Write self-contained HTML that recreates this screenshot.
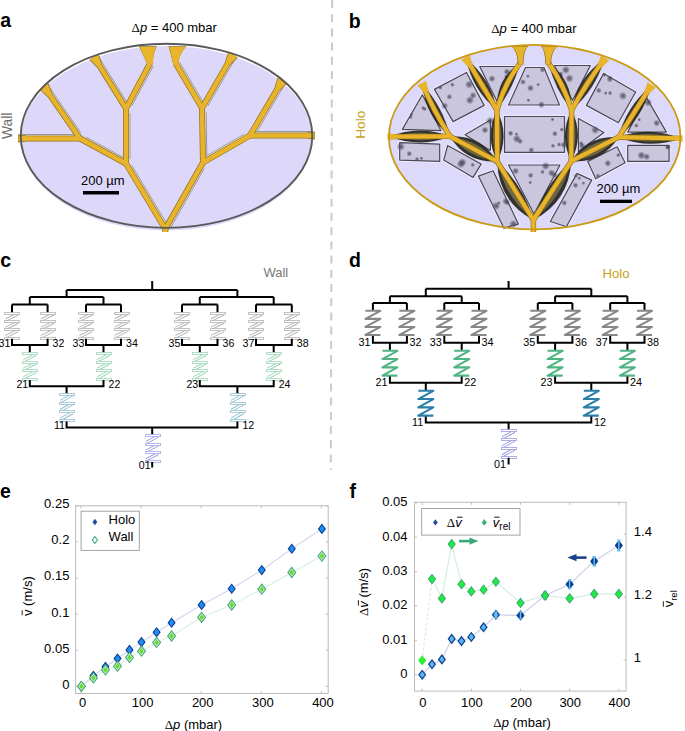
<!DOCTYPE html>
<html><head><meta charset="utf-8"><title>figure</title>
<style>
html,body{margin:0;padding:0;background:#fff;width:685px;height:731px;overflow:hidden;}
svg{display:block;}
text{font-family:"Liberation Sans", sans-serif;}
</style></head><body>
<svg width="685" height="731" viewBox="0 0 685 731">
<text x="0.2" y="27.3" font-size="19.5" text-anchor="start" fill="#000" font-weight="bold">a</text>
<text x="348.8" y="28" font-size="19.5" text-anchor="start" fill="#000" font-weight="bold">b</text>
<text x="0.2" y="267" font-size="19.5" text-anchor="start" fill="#000" font-weight="bold">c</text>
<text x="349.0" y="266.8" font-size="19.5" text-anchor="start" fill="#000" font-weight="bold">d</text>
<text x="0" y="498" font-size="19.5" text-anchor="start" fill="#000" font-weight="bold">e</text>
<text x="349.5" y="498" font-size="19.5" text-anchor="start" fill="#000" font-weight="bold">f</text>
<line x1="332.1" y1="0" x2="330.8" y2="470" stroke="#cccccc" stroke-width="2.1" stroke-dasharray="8 6.2"/>
<ellipse cx="166.5" cy="138.3" rx="145.6" ry="92.2" fill="#ddd8fa"/>
<path d="M165.4,223.7 L130.7,165.9" stroke="#f4f2fa" stroke-width="2.2"/>
<path d="M166.4,223.1 L131.7,165.3" stroke="#999699" stroke-width="1.0"/>
<path d="M170.0,226.5 L203.2,167.8" stroke="#f4f2fa" stroke-width="2.2"/>
<path d="M171.0,227.1 L204.3,168.4" stroke="#999699" stroke-width="1.0"/>
<path d="M128.8,159.0 L128.8,112.9" stroke="#f4f2fa" stroke-width="2.2"/>
<path d="M130.0,159.0 L130.0,112.9" stroke="#999699" stroke-width="1.0"/>
<path d="M123.4,158.9 L85.3,138.2" stroke="#f4f2fa" stroke-width="2.2"/>
<path d="M124.0,157.8 L85.9,137.1" stroke="#999699" stroke-width="1.0"/>
<path d="M205.7,157.9 L204.9,112.4" stroke="#f4f2fa" stroke-width="2.2"/>
<path d="M206.9,157.9 L206.1,112.4" stroke="#999699" stroke-width="1.0"/>
<path d="M205.5,157.8 L244.7,135.3" stroke="#f4f2fa" stroke-width="2.2"/>
<path d="M204.9,156.8 L244.1,134.3" stroke="#999699" stroke-width="1.0"/>
<path d="M130.6,105.8 L152.0,65.7" stroke="#f4f2fa" stroke-width="2.2"/>
<path d="M131.6,106.3 L153.1,66.3" stroke="#999699" stroke-width="1.0"/>
<path d="M126.0,103.1 L97.6,57.5" stroke="#f4f2fa" stroke-width="2.2"/>
<path d="M127.0,102.5 L98.6,56.8" stroke="#999699" stroke-width="1.0"/>
<path d="M202.1,102.7 L178.6,62.9" stroke="#f4f2fa" stroke-width="2.2"/>
<path d="M203.2,102.1 L179.7,62.3" stroke="#999699" stroke-width="1.0"/>
<path d="M206.7,105.5 L234.1,58.3" stroke="#f4f2fa" stroke-width="2.2"/>
<path d="M207.7,106.1 L235.1,58.9" stroke="#999699" stroke-width="1.0"/>
<path d="M79.7,133.2 L47.7,86.9" stroke="#f4f2fa" stroke-width="2.2"/>
<path d="M80.7,132.5 L48.6,86.2" stroke="#999699" stroke-width="1.0"/>
<path d="M75.5,135.7 L21.0,135.7" stroke="#f4f2fa" stroke-width="2.2"/>
<path d="M75.5,134.5 L21.0,134.5" stroke="#999699" stroke-width="1.0"/>
<path d="M254.7,133.0 L283.5,84.1" stroke="#f4f2fa" stroke-width="2.2"/>
<path d="M255.7,133.6 L284.5,84.7" stroke="#999699" stroke-width="1.0"/>
<path d="M254.5,132.7 L312.0,132.7" stroke="#f4f2fa" stroke-width="2.2"/>
<path d="M254.5,131.5 L312.0,131.5" stroke="#999699" stroke-width="1.0"/>
<path d="M165.3,232.0 L165.3,229.0" fill="none" stroke="#94741f" stroke-width="6.0" stroke-linejoin="round" stroke-linecap="butt"/>
<path d="M165.3,229.0 L126.0,163.5" fill="none" stroke="#94741f" stroke-width="6.0" stroke-linejoin="round" stroke-linecap="butt"/>
<path d="M165.3,229.0 L203.0,162.5" fill="none" stroke="#94741f" stroke-width="6.0" stroke-linejoin="round" stroke-linecap="butt"/>
<path d="M126.0,163.5 L126.0,108.4" fill="none" stroke="#94741f" stroke-width="6.0" stroke-linejoin="round" stroke-linecap="butt"/>
<path d="M126.0,163.5 L80.0,138.5" fill="none" stroke="#94741f" stroke-width="6.0" stroke-linejoin="round" stroke-linecap="butt"/>
<path d="M203.0,162.5 L202.0,108.0" fill="none" stroke="#94741f" stroke-width="6.0" stroke-linejoin="round" stroke-linecap="butt"/>
<path d="M203.0,162.5 L250.0,135.5" fill="none" stroke="#94741f" stroke-width="6.0" stroke-linejoin="round" stroke-linecap="butt"/>
<path d="M126.0,108.4 L150.0,63.5" fill="none" stroke="#94741f" stroke-width="6.0" stroke-linejoin="round" stroke-linecap="butt"/>
<path d="M126.0,108.4 L94.7,58.1" fill="none" stroke="#94741f" stroke-width="6.0" stroke-linejoin="round" stroke-linecap="butt"/>
<path d="M202.0,108.0 L175.7,63.5" fill="none" stroke="#94741f" stroke-width="6.0" stroke-linejoin="round" stroke-linecap="butt"/>
<path d="M202.0,108.0 L232.2,56.0" fill="none" stroke="#94741f" stroke-width="6.0" stroke-linejoin="round" stroke-linecap="butt"/>
<path d="M80.0,138.5 L44.8,87.7" fill="none" stroke="#94741f" stroke-width="6.0" stroke-linejoin="round" stroke-linecap="butt"/>
<path d="M80.0,138.5 L20.0,138.5" fill="none" stroke="#94741f" stroke-width="6.0" stroke-linejoin="round" stroke-linecap="butt"/>
<path d="M250.0,135.5 L281.6,81.8" fill="none" stroke="#94741f" stroke-width="6.0" stroke-linejoin="round" stroke-linecap="butt"/>
<path d="M250.0,135.5 L313.0,135.5" fill="none" stroke="#94741f" stroke-width="6.0" stroke-linejoin="round" stroke-linecap="butt"/>
<path d="M89.3,59.7 L98.6,53.9 L102.0,63.6 L96.4,67.0 Z" fill="#94741f"/>
<path d="M228.2,51.9 L237.7,57.5 L230.7,65.0 L225.0,61.7 Z" fill="#94741f"/>
<path d="M39.4,89.6 L48.5,83.3 L52.3,92.8 L46.9,96.6 Z" fill="#94741f"/>
<path d="M277.6,77.7 L287.1,83.3 L280.1,90.8 L274.4,87.5 Z" fill="#94741f"/>
<path d="M18.0,142.4 L18.0,134.6 L25.5,135.2 L25.5,141.8 Z" fill="#94741f"/>
<path d="M315.0,131.6 L315.0,139.4 L307.5,138.8 L307.5,132.2 Z" fill="#94741f"/>
<path d="M138.9,46.3 L156.8,46.3 Q153,54.3 152.5,64.5 L147.5,64.5 L138.9,46.3 Z" fill="#94741f"/>
<path d="M168.6,46.3 L186.3,46.3 Q178.7,54.3 178.2,64.5 L173.2,64.5 L168.6,46.3 Z" fill="#94741f"/>
<path d="M165.3,232.0 L165.3,229.0" fill="none" stroke="#e8b42c" stroke-width="4.5" stroke-linejoin="round" stroke-linecap="butt"/>
<path d="M165.3,229.0 L126.0,163.5" fill="none" stroke="#e8b42c" stroke-width="4.5" stroke-linejoin="round" stroke-linecap="butt"/>
<path d="M165.3,229.0 L203.0,162.5" fill="none" stroke="#e8b42c" stroke-width="4.5" stroke-linejoin="round" stroke-linecap="butt"/>
<path d="M126.0,163.5 L126.0,108.4" fill="none" stroke="#e8b42c" stroke-width="4.5" stroke-linejoin="round" stroke-linecap="butt"/>
<path d="M126.0,163.5 L80.0,138.5" fill="none" stroke="#e8b42c" stroke-width="4.5" stroke-linejoin="round" stroke-linecap="butt"/>
<path d="M203.0,162.5 L202.0,108.0" fill="none" stroke="#e8b42c" stroke-width="4.5" stroke-linejoin="round" stroke-linecap="butt"/>
<path d="M203.0,162.5 L250.0,135.5" fill="none" stroke="#e8b42c" stroke-width="4.5" stroke-linejoin="round" stroke-linecap="butt"/>
<path d="M126.0,108.4 L150.0,63.5" fill="none" stroke="#e8b42c" stroke-width="4.5" stroke-linejoin="round" stroke-linecap="butt"/>
<path d="M126.0,108.4 L94.7,58.1" fill="none" stroke="#e8b42c" stroke-width="4.5" stroke-linejoin="round" stroke-linecap="butt"/>
<path d="M202.0,108.0 L175.7,63.5" fill="none" stroke="#e8b42c" stroke-width="4.5" stroke-linejoin="round" stroke-linecap="butt"/>
<path d="M202.0,108.0 L232.2,56.0" fill="none" stroke="#e8b42c" stroke-width="4.5" stroke-linejoin="round" stroke-linecap="butt"/>
<path d="M80.0,138.5 L44.8,87.7" fill="none" stroke="#e8b42c" stroke-width="4.5" stroke-linejoin="round" stroke-linecap="butt"/>
<path d="M80.0,138.5 L20.0,138.5" fill="none" stroke="#e8b42c" stroke-width="4.5" stroke-linejoin="round" stroke-linecap="butt"/>
<path d="M250.0,135.5 L281.6,81.8" fill="none" stroke="#e8b42c" stroke-width="4.5" stroke-linejoin="round" stroke-linecap="butt"/>
<path d="M250.0,135.5 L313.0,135.5" fill="none" stroke="#e8b42c" stroke-width="4.5" stroke-linejoin="round" stroke-linecap="butt"/>
<path d="M89.9,59.3 L98.0,54.3 L101.3,64.0 L97.1,66.6 Z" fill="#e8b42c"/>
<path d="M228.8,52.3 L237.0,57.1 L230.1,64.6 L225.7,62.1 Z" fill="#e8b42c"/>
<path d="M40.0,89.2 L47.8,83.8 L51.7,93.3 L47.6,96.1 Z" fill="#e8b42c"/>
<path d="M278.2,78.1 L286.4,82.9 L279.4,90.4 L275.1,87.9 Z" fill="#e8b42c"/>
<path d="M18.5,141.6 L18.5,135.4 L26.0,136.0 L26.0,141.0 Z" fill="#e8b42c"/>
<path d="M314.5,132.4 L314.5,138.6 L307.0,138.0 L307.0,133.0 Z" fill="#e8b42c"/>
<path d="M139.8,47 L156,47 Q153,55 152.5,64.5 L147.5,64.5 L139.8,47 Z" fill="#e8b42c"/>
<path d="M169.4,47 L185.4,47 Q178.7,55 178.2,64.5 L173.2,64.5 L169.4,47 Z" fill="#e8b42c"/>
<ellipse cx="166.5" cy="135.8" rx="145.8" ry="92.1" fill="none" stroke="#5a5a5a" stroke-width="1.9"/>
<text x="81" y="185.3" font-size="13" text-anchor="start" fill="#000" font-weight="normal">200 µm</text>
<rect x="83" y="191" width="36" height="3.5" fill="#000"/>
<text x="131.5" y="32.4" font-size="13" text-anchor="start" fill="#000" font-weight="normal"><tspan style="font-family:Liberation Serif">Δ</tspan><tspan font-style="italic">p</tspan> = 400 mbar</text>
<text x="12.2" y="139" font-size="13.8" text-anchor="start" fill="#6a6a6a" font-weight="normal" transform="rotate(-90 12.2 139)">Wall</text>
<ellipse cx="534.7" cy="137.1" rx="145.8" ry="92.3" fill="#ddd9fa"/>
<defs><radialGradient id="dot"><stop offset="0" stop-color="#4a4858" stop-opacity="0.85"/><stop offset="0.45" stop-color="#4a4858" stop-opacity="0.6"/><stop offset="1" stop-color="#5a5870" stop-opacity="0"/></radialGradient></defs>
<polygon points="402.3,129.4 422.4,94.7 441,130.7" fill="none" stroke="#eeecfc" stroke-width="3.2" stroke-linejoin="round"/>
<polygon points="434.4,89.4 466.5,72.5 484.2,105.4 453.1,121.6" fill="none" stroke="#eeecfc" stroke-width="3.2" stroke-linejoin="round"/>
<polygon points="479.7,66.5 515.8,66.5 497.1,101.4" fill="none" stroke="#eeecfc" stroke-width="3.2" stroke-linejoin="round"/>
<polygon points="525.5,67.5 544,67.5 559.5,105 508.5,105" fill="none" stroke="#eeecfc" stroke-width="3.2" stroke-linejoin="round"/>
<polygon points="554.4,65.5 590.4,65.5 572.5,100.5" fill="none" stroke="#eeecfc" stroke-width="3.2" stroke-linejoin="round"/>
<polygon points="603.7,73.4 635.7,92 618.4,122.7 586.4,105.4" fill="none" stroke="#eeecfc" stroke-width="3.2" stroke-linejoin="round"/>
<polygon points="627.7,132.1 646.4,97.4 666.4,132.1" fill="none" stroke="#eeecfc" stroke-width="3.2" stroke-linejoin="round"/>
<polygon points="504.5,116.5 564.5,116.5 564.5,152.3 504.5,152.3" fill="none" stroke="#eeecfc" stroke-width="3.2" stroke-linejoin="round"/>
<polygon points="465,134.7 490.4,120 490.4,150.4" fill="none" stroke="#eeecfc" stroke-width="3.2" stroke-linejoin="round"/>
<polygon points="578.4,118.4 604,132.6 578.4,151.6" fill="none" stroke="#eeecfc" stroke-width="3.2" stroke-linejoin="round"/>
<polygon points="399.7,142.7 439.7,144.1 439.7,161.4 399.7,160.1" fill="none" stroke="#eeecfc" stroke-width="3.2" stroke-linejoin="round"/>
<polygon points="447.7,145.4 481.1,164.1 473.1,177.4 443.7,160.1" fill="none" stroke="#eeecfc" stroke-width="3.2" stroke-linejoin="round"/>
<polygon points="478.4,176.1 493.1,170.8 518.4,224.1 503.8,228.1" fill="none" stroke="#eeecfc" stroke-width="3.2" stroke-linejoin="round"/>
<polygon points="508.5,165 560,165 534,214" fill="none" stroke="#eeecfc" stroke-width="3.2" stroke-linejoin="round"/>
<polygon points="627.7,145.4 669.1,145.4 669.1,161.4 627.7,161.4" fill="none" stroke="#eeecfc" stroke-width="3.2" stroke-linejoin="round"/>
<polygon points="587.7,161.4 617.1,146.8 625.1,162.8 595.7,178.8" fill="none" stroke="#eeecfc" stroke-width="3.2" stroke-linejoin="round"/>
<polygon points="577,173.4 591.7,180.1 566.4,226.8 550.3,221.5" fill="none" stroke="#eeecfc" stroke-width="3.2" stroke-linejoin="round"/>
<polygon points="402.3,129.4 422.4,94.7 441,130.7" fill="#cac6de" stroke="#4a4858" stroke-width="1.2" stroke-linejoin="round"/>
<polygon points="434.4,89.4 466.5,72.5 484.2,105.4 453.1,121.6" fill="#cac6de" stroke="#4a4858" stroke-width="1.2" stroke-linejoin="round"/>
<polygon points="479.7,66.5 515.8,66.5 497.1,101.4" fill="#cac6de" stroke="#4a4858" stroke-width="1.2" stroke-linejoin="round"/>
<polygon points="525.5,67.5 544,67.5 559.5,105 508.5,105" fill="#cac6de" stroke="#4a4858" stroke-width="1.2" stroke-linejoin="round"/>
<polygon points="554.4,65.5 590.4,65.5 572.5,100.5" fill="#cac6de" stroke="#4a4858" stroke-width="1.2" stroke-linejoin="round"/>
<polygon points="603.7,73.4 635.7,92 618.4,122.7 586.4,105.4" fill="#cac6de" stroke="#4a4858" stroke-width="1.2" stroke-linejoin="round"/>
<polygon points="627.7,132.1 646.4,97.4 666.4,132.1" fill="#cac6de" stroke="#4a4858" stroke-width="1.2" stroke-linejoin="round"/>
<polygon points="504.5,116.5 564.5,116.5 564.5,152.3 504.5,152.3" fill="#cac6de" stroke="#4a4858" stroke-width="1.2" stroke-linejoin="round"/>
<polygon points="465,134.7 490.4,120 490.4,150.4" fill="#cac6de" stroke="#4a4858" stroke-width="1.2" stroke-linejoin="round"/>
<polygon points="578.4,118.4 604,132.6 578.4,151.6" fill="#cac6de" stroke="#4a4858" stroke-width="1.2" stroke-linejoin="round"/>
<polygon points="399.7,142.7 439.7,144.1 439.7,161.4 399.7,160.1" fill="#cac6de" stroke="#4a4858" stroke-width="1.2" stroke-linejoin="round"/>
<polygon points="447.7,145.4 481.1,164.1 473.1,177.4 443.7,160.1" fill="#cac6de" stroke="#4a4858" stroke-width="1.2" stroke-linejoin="round"/>
<polygon points="478.4,176.1 493.1,170.8 518.4,224.1 503.8,228.1" fill="#cac6de" stroke="#4a4858" stroke-width="1.2" stroke-linejoin="round"/>
<polygon points="508.5,165 560,165 534,214" fill="#cac6de" stroke="#4a4858" stroke-width="1.2" stroke-linejoin="round"/>
<polygon points="627.7,145.4 669.1,145.4 669.1,161.4 627.7,161.4" fill="#cac6de" stroke="#4a4858" stroke-width="1.2" stroke-linejoin="round"/>
<polygon points="587.7,161.4 617.1,146.8 625.1,162.8 595.7,178.8" fill="#cac6de" stroke="#4a4858" stroke-width="1.2" stroke-linejoin="round"/>
<polygon points="577,173.4 591.7,180.1 566.4,226.8 550.3,221.5" fill="#cac6de" stroke="#4a4858" stroke-width="1.2" stroke-linejoin="round"/>
<circle cx="423.0" cy="107.9" r="2.0" fill="url(#dot)"/>
<circle cx="411.6" cy="114.5" r="2.0" fill="url(#dot)"/>
<circle cx="410.9" cy="117.3" r="2.0" fill="url(#dot)"/>
<circle cx="424.6" cy="109.0" r="2.4" fill="url(#dot)"/>
<circle cx="440.3" cy="87.6" r="2.4" fill="url(#dot)"/>
<circle cx="469.9" cy="100.2" r="4.3" fill="url(#dot)"/>
<circle cx="444.7" cy="105.9" r="3.6" fill="url(#dot)"/>
<circle cx="473.1" cy="95.4" r="3.6" fill="url(#dot)"/>
<circle cx="452.4" cy="84.7" r="2.4" fill="url(#dot)"/>
<circle cx="469.2" cy="84.5" r="4.3" fill="url(#dot)"/>
<circle cx="449.4" cy="96.8" r="3.0" fill="url(#dot)"/>
<circle cx="506.0" cy="76.5" r="2.0" fill="url(#dot)"/>
<circle cx="507.0" cy="71.8" r="3.6" fill="url(#dot)"/>
<circle cx="492.0" cy="78.7" r="3.6" fill="url(#dot)"/>
<circle cx="538.1" cy="84.6" r="2.0" fill="url(#dot)"/>
<circle cx="542.4" cy="69.8" r="3.0" fill="url(#dot)"/>
<circle cx="541.5" cy="104.7" r="3.6" fill="url(#dot)"/>
<circle cx="523.0" cy="82.0" r="3.0" fill="url(#dot)"/>
<circle cx="528.4" cy="100.2" r="2.0" fill="url(#dot)"/>
<circle cx="530.5" cy="88.1" r="3.6" fill="url(#dot)"/>
<circle cx="527.9" cy="76.2" r="2.0" fill="url(#dot)"/>
<circle cx="560.7" cy="73.6" r="2.4" fill="url(#dot)"/>
<circle cx="561.0" cy="75.4" r="2.4" fill="url(#dot)"/>
<circle cx="569.5" cy="78.4" r="4.3" fill="url(#dot)"/>
<circle cx="565.9" cy="69.9" r="4.3" fill="url(#dot)"/>
<circle cx="622.9" cy="95.9" r="4.3" fill="url(#dot)"/>
<circle cx="605.7" cy="93.1" r="2.0" fill="url(#dot)"/>
<circle cx="610.1" cy="93.1" r="2.4" fill="url(#dot)"/>
<circle cx="604.3" cy="74.7" r="2.4" fill="url(#dot)"/>
<circle cx="598.8" cy="90.5" r="3.0" fill="url(#dot)"/>
<circle cx="609.8" cy="79.1" r="3.6" fill="url(#dot)"/>
<circle cx="610.3" cy="77.6" r="2.0" fill="url(#dot)"/>
<circle cx="656.7" cy="123.1" r="3.6" fill="url(#dot)"/>
<circle cx="648.1" cy="102.5" r="4.3" fill="url(#dot)"/>
<circle cx="639.2" cy="119.7" r="2.0" fill="url(#dot)"/>
<circle cx="636.3" cy="125.6" r="2.4" fill="url(#dot)"/>
<circle cx="552.9" cy="145.8" r="2.4" fill="url(#dot)"/>
<circle cx="516.5" cy="134.1" r="2.0" fill="url(#dot)"/>
<circle cx="563.9" cy="144.8" r="3.6" fill="url(#dot)"/>
<circle cx="520.1" cy="141.3" r="3.0" fill="url(#dot)"/>
<circle cx="531.3" cy="150.0" r="3.0" fill="url(#dot)"/>
<circle cx="561.8" cy="129.6" r="2.4" fill="url(#dot)"/>
<circle cx="510.6" cy="133.3" r="3.0" fill="url(#dot)"/>
<circle cx="516.8" cy="138.8" r="4.3" fill="url(#dot)"/>
<circle cx="554.9" cy="133.7" r="3.0" fill="url(#dot)"/>
<circle cx="552.5" cy="119.5" r="2.0" fill="url(#dot)"/>
<circle cx="559.1" cy="144.5" r="2.4" fill="url(#dot)"/>
<circle cx="485.0" cy="130.1" r="3.6" fill="url(#dot)"/>
<circle cx="490.2" cy="120.8" r="4.3" fill="url(#dot)"/>
<circle cx="582.1" cy="145.8" r="3.6" fill="url(#dot)"/>
<circle cx="595.2" cy="130.0" r="4.3" fill="url(#dot)"/>
<circle cx="581.0" cy="143.3" r="2.4" fill="url(#dot)"/>
<circle cx="417.1" cy="159.0" r="2.4" fill="url(#dot)"/>
<circle cx="400.8" cy="146.7" r="4.3" fill="url(#dot)"/>
<circle cx="409.3" cy="153.7" r="3.0" fill="url(#dot)"/>
<circle cx="421.5" cy="158.3" r="2.0" fill="url(#dot)"/>
<circle cx="460.8" cy="164.1" r="4.3" fill="url(#dot)"/>
<circle cx="462.5" cy="162.4" r="4.3" fill="url(#dot)"/>
<circle cx="472.7" cy="164.9" r="2.4" fill="url(#dot)"/>
<circle cx="507.4" cy="202.7" r="3.0" fill="url(#dot)"/>
<circle cx="505.7" cy="201.2" r="3.6" fill="url(#dot)"/>
<circle cx="498.7" cy="203.0" r="2.0" fill="url(#dot)"/>
<circle cx="496.1" cy="205.9" r="4.3" fill="url(#dot)"/>
<circle cx="513.4" cy="224.0" r="4.3" fill="url(#dot)"/>
<circle cx="554.5" cy="174.9" r="3.6" fill="url(#dot)"/>
<circle cx="515.6" cy="171.0" r="3.6" fill="url(#dot)"/>
<circle cx="530.6" cy="175.4" r="3.0" fill="url(#dot)"/>
<circle cx="542.5" cy="172.0" r="2.4" fill="url(#dot)"/>
<circle cx="551.4" cy="172.9" r="3.6" fill="url(#dot)"/>
<circle cx="530.2" cy="182.5" r="2.0" fill="url(#dot)"/>
<circle cx="545.7" cy="166.0" r="4.3" fill="url(#dot)"/>
<circle cx="646.7" cy="156.7" r="3.6" fill="url(#dot)"/>
<circle cx="641.4" cy="155.4" r="4.3" fill="url(#dot)"/>
<circle cx="667.5" cy="147.2" r="2.4" fill="url(#dot)"/>
<circle cx="667.9" cy="147.1" r="3.0" fill="url(#dot)"/>
<circle cx="597.9" cy="175.8" r="2.4" fill="url(#dot)"/>
<circle cx="618.3" cy="155.1" r="2.4" fill="url(#dot)"/>
<circle cx="607.8" cy="163.3" r="3.6" fill="url(#dot)"/>
<circle cx="579.3" cy="178.2" r="2.0" fill="url(#dot)"/>
<circle cx="583.4" cy="183.2" r="2.0" fill="url(#dot)"/>
<circle cx="575.5" cy="185.3" r="3.0" fill="url(#dot)"/>
<circle cx="564.3" cy="202.9" r="3.0" fill="url(#dot)"/>
<circle cx="576.0" cy="175.7" r="2.4" fill="url(#dot)"/>
<path d="M533.4,232.0 Q537.4,226.0 533.4,220.0 Q529.4,226.0 533.4,232.0 Z" fill="#26241c" opacity="0.92"/>
<path d="M533.4,220.0 Q523.8,185.5 497.2,161.5 Q498.3,201.3 533.4,220.0 Z" fill="#26241c" opacity="0.92"/>
<path d="M533.4,220.0 Q569.1,201.4 571.2,161.2 Q543.9,185.2 533.4,220.0 Z" fill="#26241c" opacity="0.92"/>
<path d="M497.2,161.5 Q510.1,135.7 497.0,110.0 Q484.1,135.8 497.2,161.5 Z" fill="#26241c" opacity="0.92"/>
<path d="M497.2,161.5 Q481.1,134.8 450.0,136.4 Q466.1,163.1 497.2,161.5 Z" fill="#26241c" opacity="0.92"/>
<path d="M571.2,161.2 Q584.4,135.7 571.6,110.0 Q558.4,135.5 571.2,161.2 Z" fill="#26241c" opacity="0.92"/>
<path d="M571.2,161.2 Q602.1,163.5 618.6,137.2 Q587.7,134.9 571.2,161.2 Z" fill="#26241c" opacity="0.92"/>
<path d="M497.0,110.0 Q513.2,88.5 520.4,62.5 Q495.2,79.6 497.0,110.0 Z" fill="#26241c" opacity="0.92"/>
<path d="M497.0,110.0 Q491.0,78.7 466.2,58.7 Q472.2,90.0 497.0,110.0 Z" fill="#26241c" opacity="0.92"/>
<path d="M571.6,110.0 Q572.6,80.1 548.4,62.5 Q554.6,88.9 571.6,110.0 Z" fill="#26241c" opacity="0.92"/>
<path d="M571.6,110.0 Q595.5,89.5 604.3,59.2 Q577.0,77.6 571.6,110.0 Z" fill="#26241c" opacity="0.92"/>
<path d="M450.0,136.4 Q443.0,106.9 422.5,84.5 Q425.3,116.3 450.0,136.4 Z" fill="#26241c" opacity="0.92"/>
<path d="M450.0,136.4 Q419.7,124.5 389.5,136.6 Q419.8,148.5 450.0,136.4 Z" fill="#26241c" opacity="0.92"/>
<path d="M618.6,137.2 Q643.2,117.0 650.8,86.2 Q626.2,106.4 618.6,137.2 Z" fill="#26241c" opacity="0.92"/>
<path d="M618.6,137.2 Q649.3,149.8 680.5,138.4 Q649.8,125.8 618.6,137.2 Z" fill="#26241c" opacity="0.92"/>
<path d="M533.4,230.0 Q535.9,226.0 533.4,222.0 Q530.9,226.0 533.4,230.0 Z" fill="#77704f" opacity="0.85"/>
<path d="M532.3,218.3 Q520.6,187.5 498.3,163.2 Q504.8,197.3 532.3,218.3 Z" fill="#77704f" opacity="0.85"/>
<path d="M534.5,218.3 Q562.7,197.3 570.1,162.9 Q547.1,187.2 534.5,218.3 Z" fill="#77704f" opacity="0.85"/>
<path d="M497.2,159.5 Q505.2,135.7 497.0,112.0 Q489.0,135.8 497.2,159.5 Z" fill="#77704f" opacity="0.85"/>
<path d="M495.4,160.6 Q478.3,140.2 451.8,137.3 Q468.9,157.7 495.4,160.6 Z" fill="#77704f" opacity="0.85"/>
<path d="M571.2,159.2 Q579.5,135.7 571.6,112.0 Q563.3,135.5 571.2,159.2 Z" fill="#77704f" opacity="0.85"/>
<path d="M573.0,160.3 Q599.4,158.1 616.8,138.1 Q590.4,140.3 573.0,160.3 Z" fill="#77704f" opacity="0.85"/>
<path d="M497.9,108.2 Q509.8,86.8 519.5,64.3 Q498.7,81.3 497.9,108.2 Z" fill="#77704f" opacity="0.85"/>
<path d="M496.0,108.3 Q487.4,80.8 467.2,60.4 Q475.8,87.9 496.0,108.3 Z" fill="#77704f" opacity="0.85"/>
<path d="M570.7,108.2 Q569.2,81.8 549.3,64.3 Q558.0,87.2 570.7,108.2 Z" fill="#77704f" opacity="0.85"/>
<path d="M572.7,108.3 Q592.0,87.2 603.2,60.9 Q580.5,79.8 572.7,108.3 Z" fill="#77704f" opacity="0.85"/>
<path d="M449.1,134.6 Q439.6,108.7 423.4,86.3 Q428.7,114.5 449.1,134.6 Z" fill="#77704f" opacity="0.85"/>
<path d="M448.0,136.4 Q419.7,129.1 391.5,136.6 Q419.8,143.9 448.0,136.4 Z" fill="#77704f" opacity="0.85"/>
<path d="M619.7,135.5 Q639.9,115.0 649.7,87.9 Q629.5,108.4 619.7,135.5 Z" fill="#77704f" opacity="0.85"/>
<path d="M620.6,137.2 Q649.4,145.2 678.5,138.4 Q649.7,130.4 620.6,137.2 Z" fill="#77704f" opacity="0.85"/>
<path d="M533.4,232 L533.4,220" stroke="#8a6a14" stroke-width="5.4" fill="none" stroke-linecap="butt" stroke-linejoin="round"/>
<path d="M533.4,220 L497.2,161.5" stroke="#8a6a14" stroke-width="5.4" fill="none" stroke-linecap="butt" stroke-linejoin="round"/>
<path d="M533.4,220 L571.2,161.2" stroke="#8a6a14" stroke-width="5.4" fill="none" stroke-linecap="butt" stroke-linejoin="round"/>
<path d="M497.2,161.5 L497.0,110.0" stroke="#8a6a14" stroke-width="5.4" fill="none" stroke-linecap="butt" stroke-linejoin="round"/>
<path d="M497.2,161.5 L450.0,136.4" stroke="#8a6a14" stroke-width="5.4" fill="none" stroke-linecap="butt" stroke-linejoin="round"/>
<path d="M571.2,161.2 L571.6,110.0" stroke="#8a6a14" stroke-width="5.4" fill="none" stroke-linecap="butt" stroke-linejoin="round"/>
<path d="M571.2,161.2 L618.6,137.2" stroke="#8a6a14" stroke-width="5.4" fill="none" stroke-linecap="butt" stroke-linejoin="round"/>
<path d="M497.0,110.0 Q504.2,84.0 520.4,62.5" stroke="#8a6a14" stroke-width="5.4" fill="none" stroke-linecap="butt" stroke-linejoin="round"/>
<path d="M497.0,110.0 L466.2,58.7" stroke="#8a6a14" stroke-width="5.4" fill="none" stroke-linecap="butt" stroke-linejoin="round"/>
<path d="M571.6,110.0 Q563.6,84.5 548.4,62.5" stroke="#8a6a14" stroke-width="5.4" fill="none" stroke-linecap="butt" stroke-linejoin="round"/>
<path d="M571.6,110.0 Q586.3,83.5 604.3,59.2" stroke="#8a6a14" stroke-width="5.4" fill="none" stroke-linecap="butt" stroke-linejoin="round"/>
<path d="M450.0,136.4 Q434.1,111.6 422.5,84.5" stroke="#8a6a14" stroke-width="5.4" fill="none" stroke-linecap="butt" stroke-linejoin="round"/>
<path d="M450.0,136.4 L389.5,136.6" stroke="#8a6a14" stroke-width="5.4" fill="none" stroke-linecap="butt" stroke-linejoin="round"/>
<path d="M618.6,137.2 L650.8,86.2" stroke="#8a6a14" stroke-width="5.4" fill="none" stroke-linecap="butt" stroke-linejoin="round"/>
<path d="M618.6,137.2 L680.5,138.4" stroke="#8a6a14" stroke-width="5.4" fill="none" stroke-linecap="butt" stroke-linejoin="round"/>
<path d="M461.1,60.0 L469.7,54.8 L472.5,64.8 L468.6,67.2 Z" fill="#e8b42c"/>
<path d="M600.9,55.2 L609.3,60.6 L601.6,67.6 L597.8,65.1 Z" fill="#e8b42c"/>
<path d="M417.4,85.5 L426.2,80.8 L428.5,90.9 L424.4,93.1 Z" fill="#e8b42c"/>
<path d="M647.4,82.3 L655.8,87.6 L648.2,94.6 L644.3,92.2 Z" fill="#e8b42c"/>
<path d="M387.5,139.8 L387.5,133.3 L395.0,134.3 L395.0,138.9 Z" fill="#e8b42c"/>
<path d="M682.5,135.2 L682.5,141.7 L675.0,140.7 L675.0,136.1 Z" fill="#e8b42c"/>
<path d="M533.4,232 L533.4,220" stroke="#e8b42c" stroke-width="4.2" fill="none" stroke-linecap="butt" stroke-linejoin="round"/>
<path d="M533.4,220 L497.2,161.5" stroke="#e8b42c" stroke-width="4.2" fill="none" stroke-linecap="butt" stroke-linejoin="round"/>
<path d="M533.4,220 L571.2,161.2" stroke="#e8b42c" stroke-width="4.2" fill="none" stroke-linecap="butt" stroke-linejoin="round"/>
<path d="M497.2,161.5 L497.0,110.0" stroke="#e8b42c" stroke-width="4.2" fill="none" stroke-linecap="butt" stroke-linejoin="round"/>
<path d="M497.2,161.5 L450.0,136.4" stroke="#e8b42c" stroke-width="4.2" fill="none" stroke-linecap="butt" stroke-linejoin="round"/>
<path d="M571.2,161.2 L571.6,110.0" stroke="#e8b42c" stroke-width="4.2" fill="none" stroke-linecap="butt" stroke-linejoin="round"/>
<path d="M571.2,161.2 L618.6,137.2" stroke="#e8b42c" stroke-width="4.2" fill="none" stroke-linecap="butt" stroke-linejoin="round"/>
<path d="M497.0,110.0 Q504.2,84.0 520.4,62.5" stroke="#e8b42c" stroke-width="4.2" fill="none" stroke-linecap="butt" stroke-linejoin="round"/>
<path d="M497.0,110.0 L466.2,58.7" stroke="#e8b42c" stroke-width="4.2" fill="none" stroke-linecap="butt" stroke-linejoin="round"/>
<path d="M571.6,110.0 Q563.6,84.5 548.4,62.5" stroke="#e8b42c" stroke-width="4.2" fill="none" stroke-linecap="butt" stroke-linejoin="round"/>
<path d="M571.6,110.0 Q586.3,83.5 604.3,59.2" stroke="#e8b42c" stroke-width="4.2" fill="none" stroke-linecap="butt" stroke-linejoin="round"/>
<path d="M450.0,136.4 Q434.1,111.6 422.5,84.5" stroke="#e8b42c" stroke-width="4.2" fill="none" stroke-linecap="butt" stroke-linejoin="round"/>
<path d="M450.0,136.4 L389.5,136.6" stroke="#e8b42c" stroke-width="4.2" fill="none" stroke-linecap="butt" stroke-linejoin="round"/>
<path d="M618.6,137.2 L650.8,86.2" stroke="#e8b42c" stroke-width="4.2" fill="none" stroke-linecap="butt" stroke-linejoin="round"/>
<path d="M618.6,137.2 L680.5,138.4" stroke="#e8b42c" stroke-width="4.2" fill="none" stroke-linecap="butt" stroke-linejoin="round"/>
<path d="M511.0,46.0 L528.0,46.0 Q523.4,51.0 523.4,64.5 L517.8000000000001,64.5 Q517.8000000000001,51.0 511.0,46.0 Z" fill="#8a6a14"/>
<path d="M541.0,46.0 L558.0,46.0 Q551.0,51.0 551.0,64.5 L545.4000000000001,64.5 Q545.4000000000001,51.0 541.0,46.0 Z" fill="#8a6a14"/>
<path d="M511.6,46.5 L527.4,46.5 Q522.7,51.5 522.7,64.5 L518.5,64.5 Q518.5,51.5 511.6,46.5 Z" fill="#e8b42c"/>
<path d="M541.6,46.5 L557.4,46.5 Q550.3000000000001,51.5 550.3000000000001,64.5 L546.1,64.5 Q546.1,51.5 541.6,46.5 Z" fill="#e8b42c"/>
<ellipse cx="534.7" cy="137.1" rx="145.8" ry="92.3" fill="none" stroke="#c99a14" stroke-width="1.8"/>
<text x="596.6" y="193.4" font-size="13" text-anchor="start" fill="#000" font-weight="normal">200 µm</text>
<rect x="600" y="199.7" width="32" height="3.3" fill="#000"/>
<text x="491.2" y="33.3" font-size="13" text-anchor="start" fill="#000" font-weight="normal"><tspan style="font-family:Liberation Serif">Δ</tspan><tspan font-style="italic">p</tspan> = 400 mbar</text>
<text x="364.8" y="138.7" font-size="13.6" text-anchor="start" fill="#c9a020" font-weight="normal" transform="rotate(-90 364.8 138.7)">Holo</text>
<path d="M152.2,281 V290 M66.6,290 H237.4 M66.6,290 V297 M237.4,290 V297" stroke="#000" stroke-width="2" fill="none"/>
<path d="M29.8,297 H103.5 M29.8,297 V304.4 M103.5,297 V304.4" stroke="#000" stroke-width="2" fill="none"/>
<path d="M199.8,297 H273.7 M199.8,297 V304.4 M273.7,297 V304.4" stroke="#000" stroke-width="2" fill="none"/>
<path d="M12,304.4 H47.6 M12,304.4 V312.7 M47.6,304.4 V312.7" stroke="#000" stroke-width="2" fill="none"/>
<path d="M86,304.4 H121 M86,304.4 V312.7 M121,304.4 V312.7" stroke="#000" stroke-width="2" fill="none"/>
<path d="M182,304.4 H217.5 M182,304.4 V312.7 M217.5,304.4 V312.7" stroke="#000" stroke-width="2" fill="none"/>
<path d="M256,304.4 H291.8 M256,304.4 V312.7 M291.8,304.4 V312.7" stroke="#000" stroke-width="2" fill="none"/>
<path d="M17.9,313.9 L6.1,319.8" stroke="#b3b3b3" stroke-width="3.3" stroke-linecap="butt"/>
<path d="M17.9,313.9 L6.1,319.8" stroke="#fff" stroke-width="1.4" stroke-linecap="butt"/>
<path d="M17.9,322.2 L6.1,328.2" stroke="#b3b3b3" stroke-width="3.3" stroke-linecap="butt"/>
<path d="M17.9,322.2 L6.1,328.2" stroke="#fff" stroke-width="1.4" stroke-linecap="butt"/>
<path d="M17.9,330.6 L6.1,336.5" stroke="#b3b3b3" stroke-width="3.3" stroke-linecap="butt"/>
<path d="M17.9,330.6 L6.1,336.5" stroke="#fff" stroke-width="1.4" stroke-linecap="butt"/>
<rect x="4.5" y="312.5" width="15" height="2" fill="#fff" stroke="#b3b3b3" stroke-width="1" stroke-opacity="0.8"/>
<rect x="4.5" y="320.5" width="15" height="2" fill="#fff" stroke="#b3b3b3" stroke-width="1" stroke-opacity="0.8"/>
<rect x="4.5" y="328.5" width="15" height="2" fill="#fff" stroke="#b3b3b3" stroke-width="1" stroke-opacity="0.8"/>
<rect x="4.5" y="337.5" width="15" height="2" fill="#fff" stroke="#b3b3b3" stroke-width="1" stroke-opacity="0.8"/>
<path d="M53.5,313.9 L41.7,319.8" stroke="#b3b3b3" stroke-width="3.3" stroke-linecap="butt"/>
<path d="M53.5,313.9 L41.7,319.8" stroke="#fff" stroke-width="1.4" stroke-linecap="butt"/>
<path d="M53.5,322.2 L41.7,328.2" stroke="#b3b3b3" stroke-width="3.3" stroke-linecap="butt"/>
<path d="M53.5,322.2 L41.7,328.2" stroke="#fff" stroke-width="1.4" stroke-linecap="butt"/>
<path d="M53.5,330.6 L41.7,336.5" stroke="#b3b3b3" stroke-width="3.3" stroke-linecap="butt"/>
<path d="M53.5,330.6 L41.7,336.5" stroke="#fff" stroke-width="1.4" stroke-linecap="butt"/>
<rect x="40.5" y="312.5" width="15" height="2" fill="#fff" stroke="#b3b3b3" stroke-width="1" stroke-opacity="0.8"/>
<rect x="40.5" y="320.5" width="15" height="2" fill="#fff" stroke="#b3b3b3" stroke-width="1" stroke-opacity="0.8"/>
<rect x="40.5" y="328.5" width="15" height="2" fill="#fff" stroke="#b3b3b3" stroke-width="1" stroke-opacity="0.8"/>
<rect x="40.5" y="337.5" width="15" height="2" fill="#fff" stroke="#b3b3b3" stroke-width="1" stroke-opacity="0.8"/>
<path d="M91.9,313.9 L80.1,319.8" stroke="#b3b3b3" stroke-width="3.3" stroke-linecap="butt"/>
<path d="M91.9,313.9 L80.1,319.8" stroke="#fff" stroke-width="1.4" stroke-linecap="butt"/>
<path d="M91.9,322.2 L80.1,328.2" stroke="#b3b3b3" stroke-width="3.3" stroke-linecap="butt"/>
<path d="M91.9,322.2 L80.1,328.2" stroke="#fff" stroke-width="1.4" stroke-linecap="butt"/>
<path d="M91.9,330.6 L80.1,336.5" stroke="#b3b3b3" stroke-width="3.3" stroke-linecap="butt"/>
<path d="M91.9,330.6 L80.1,336.5" stroke="#fff" stroke-width="1.4" stroke-linecap="butt"/>
<rect x="78.5" y="312.5" width="15" height="2" fill="#fff" stroke="#b3b3b3" stroke-width="1" stroke-opacity="0.8"/>
<rect x="78.5" y="320.5" width="15" height="2" fill="#fff" stroke="#b3b3b3" stroke-width="1" stroke-opacity="0.8"/>
<rect x="78.5" y="328.5" width="15" height="2" fill="#fff" stroke="#b3b3b3" stroke-width="1" stroke-opacity="0.8"/>
<rect x="78.5" y="337.5" width="15" height="2" fill="#fff" stroke="#b3b3b3" stroke-width="1" stroke-opacity="0.8"/>
<path d="M126.9,313.9 L115.1,319.8" stroke="#b3b3b3" stroke-width="3.3" stroke-linecap="butt"/>
<path d="M126.9,313.9 L115.1,319.8" stroke="#fff" stroke-width="1.4" stroke-linecap="butt"/>
<path d="M126.9,322.2 L115.1,328.2" stroke="#b3b3b3" stroke-width="3.3" stroke-linecap="butt"/>
<path d="M126.9,322.2 L115.1,328.2" stroke="#fff" stroke-width="1.4" stroke-linecap="butt"/>
<path d="M126.9,330.6 L115.1,336.5" stroke="#b3b3b3" stroke-width="3.3" stroke-linecap="butt"/>
<path d="M126.9,330.6 L115.1,336.5" stroke="#fff" stroke-width="1.4" stroke-linecap="butt"/>
<rect x="114.5" y="312.5" width="15" height="2" fill="#fff" stroke="#b3b3b3" stroke-width="1" stroke-opacity="0.8"/>
<rect x="114.5" y="320.5" width="15" height="2" fill="#fff" stroke="#b3b3b3" stroke-width="1" stroke-opacity="0.8"/>
<rect x="114.5" y="328.5" width="15" height="2" fill="#fff" stroke="#b3b3b3" stroke-width="1" stroke-opacity="0.8"/>
<rect x="114.5" y="337.5" width="15" height="2" fill="#fff" stroke="#b3b3b3" stroke-width="1" stroke-opacity="0.8"/>
<path d="M187.9,313.9 L176.1,319.8" stroke="#b3b3b3" stroke-width="3.3" stroke-linecap="butt"/>
<path d="M187.9,313.9 L176.1,319.8" stroke="#fff" stroke-width="1.4" stroke-linecap="butt"/>
<path d="M187.9,322.2 L176.1,328.2" stroke="#b3b3b3" stroke-width="3.3" stroke-linecap="butt"/>
<path d="M187.9,322.2 L176.1,328.2" stroke="#fff" stroke-width="1.4" stroke-linecap="butt"/>
<path d="M187.9,330.6 L176.1,336.5" stroke="#b3b3b3" stroke-width="3.3" stroke-linecap="butt"/>
<path d="M187.9,330.6 L176.1,336.5" stroke="#fff" stroke-width="1.4" stroke-linecap="butt"/>
<rect x="174.5" y="312.5" width="15" height="2" fill="#fff" stroke="#b3b3b3" stroke-width="1" stroke-opacity="0.8"/>
<rect x="174.5" y="320.5" width="15" height="2" fill="#fff" stroke="#b3b3b3" stroke-width="1" stroke-opacity="0.8"/>
<rect x="174.5" y="328.5" width="15" height="2" fill="#fff" stroke="#b3b3b3" stroke-width="1" stroke-opacity="0.8"/>
<rect x="174.5" y="337.5" width="15" height="2" fill="#fff" stroke="#b3b3b3" stroke-width="1" stroke-opacity="0.8"/>
<path d="M223.4,313.9 L211.6,319.8" stroke="#b3b3b3" stroke-width="3.3" stroke-linecap="butt"/>
<path d="M223.4,313.9 L211.6,319.8" stroke="#fff" stroke-width="1.4" stroke-linecap="butt"/>
<path d="M223.4,322.2 L211.6,328.2" stroke="#b3b3b3" stroke-width="3.3" stroke-linecap="butt"/>
<path d="M223.4,322.2 L211.6,328.2" stroke="#fff" stroke-width="1.4" stroke-linecap="butt"/>
<path d="M223.4,330.6 L211.6,336.5" stroke="#b3b3b3" stroke-width="3.3" stroke-linecap="butt"/>
<path d="M223.4,330.6 L211.6,336.5" stroke="#fff" stroke-width="1.4" stroke-linecap="butt"/>
<rect x="210.5" y="312.5" width="15" height="2" fill="#fff" stroke="#b3b3b3" stroke-width="1" stroke-opacity="0.8"/>
<rect x="210.5" y="320.5" width="15" height="2" fill="#fff" stroke="#b3b3b3" stroke-width="1" stroke-opacity="0.8"/>
<rect x="210.5" y="328.5" width="15" height="2" fill="#fff" stroke="#b3b3b3" stroke-width="1" stroke-opacity="0.8"/>
<rect x="210.5" y="337.5" width="15" height="2" fill="#fff" stroke="#b3b3b3" stroke-width="1" stroke-opacity="0.8"/>
<path d="M261.9,313.9 L250.1,319.8" stroke="#b3b3b3" stroke-width="3.3" stroke-linecap="butt"/>
<path d="M261.9,313.9 L250.1,319.8" stroke="#fff" stroke-width="1.4" stroke-linecap="butt"/>
<path d="M261.9,322.2 L250.1,328.2" stroke="#b3b3b3" stroke-width="3.3" stroke-linecap="butt"/>
<path d="M261.9,322.2 L250.1,328.2" stroke="#fff" stroke-width="1.4" stroke-linecap="butt"/>
<path d="M261.9,330.6 L250.1,336.5" stroke="#b3b3b3" stroke-width="3.3" stroke-linecap="butt"/>
<path d="M261.9,330.6 L250.1,336.5" stroke="#fff" stroke-width="1.4" stroke-linecap="butt"/>
<rect x="248.5" y="312.5" width="15" height="2" fill="#fff" stroke="#b3b3b3" stroke-width="1" stroke-opacity="0.8"/>
<rect x="248.5" y="320.5" width="15" height="2" fill="#fff" stroke="#b3b3b3" stroke-width="1" stroke-opacity="0.8"/>
<rect x="248.5" y="328.5" width="15" height="2" fill="#fff" stroke="#b3b3b3" stroke-width="1" stroke-opacity="0.8"/>
<rect x="248.5" y="337.5" width="15" height="2" fill="#fff" stroke="#b3b3b3" stroke-width="1" stroke-opacity="0.8"/>
<path d="M297.7,313.9 L285.9,319.8" stroke="#b3b3b3" stroke-width="3.3" stroke-linecap="butt"/>
<path d="M297.7,313.9 L285.9,319.8" stroke="#fff" stroke-width="1.4" stroke-linecap="butt"/>
<path d="M297.7,322.2 L285.9,328.2" stroke="#b3b3b3" stroke-width="3.3" stroke-linecap="butt"/>
<path d="M297.7,322.2 L285.9,328.2" stroke="#fff" stroke-width="1.4" stroke-linecap="butt"/>
<path d="M297.7,330.6 L285.9,336.5" stroke="#b3b3b3" stroke-width="3.3" stroke-linecap="butt"/>
<path d="M297.7,330.6 L285.9,336.5" stroke="#fff" stroke-width="1.4" stroke-linecap="butt"/>
<rect x="284.5" y="312.5" width="15" height="2" fill="#fff" stroke="#b3b3b3" stroke-width="1" stroke-opacity="0.8"/>
<rect x="284.5" y="320.5" width="15" height="2" fill="#fff" stroke="#b3b3b3" stroke-width="1" stroke-opacity="0.8"/>
<rect x="284.5" y="328.5" width="15" height="2" fill="#fff" stroke="#b3b3b3" stroke-width="1" stroke-opacity="0.8"/>
<rect x="284.5" y="337.5" width="15" height="2" fill="#fff" stroke="#b3b3b3" stroke-width="1" stroke-opacity="0.8"/>
<path d="M12,338.7 V345 H47.6 V338.7 M29.8,345 V353.3" stroke="#000" stroke-width="2" fill="none"/>
<path d="M86,338.7 V345 H121 V338.7 M103.5,345 V353.3" stroke="#000" stroke-width="2" fill="none"/>
<path d="M182,338.7 V345 H217.5 V338.7 M199.8,345 V353.3" stroke="#000" stroke-width="2" fill="none"/>
<path d="M256,338.7 V345 H291.8 V338.7 M273.7,345 V353.3" stroke="#000" stroke-width="2" fill="none"/>
<path d="M35.7,354.5 L23.9,360.6" stroke="#9ed5b8" stroke-width="3.3" stroke-linecap="butt"/>
<path d="M35.7,354.5 L23.9,360.6" stroke="#fff" stroke-width="1.4" stroke-linecap="butt"/>
<path d="M35.7,363.0 L23.9,369.2" stroke="#9ed5b8" stroke-width="3.3" stroke-linecap="butt"/>
<path d="M35.7,363.0 L23.9,369.2" stroke="#fff" stroke-width="1.4" stroke-linecap="butt"/>
<path d="M35.7,371.6 L23.9,377.7" stroke="#9ed5b8" stroke-width="3.3" stroke-linecap="butt"/>
<path d="M35.7,371.6 L23.9,377.7" stroke="#fff" stroke-width="1.4" stroke-linecap="butt"/>
<rect x="22.5" y="352.5" width="15" height="2" fill="#fff" stroke="#9ed5b8" stroke-width="1" stroke-opacity="0.8"/>
<rect x="22.5" y="361.5" width="15" height="2" fill="#fff" stroke="#9ed5b8" stroke-width="1" stroke-opacity="0.8"/>
<rect x="22.5" y="369.5" width="15" height="2" fill="#fff" stroke="#9ed5b8" stroke-width="1" stroke-opacity="0.8"/>
<rect x="22.5" y="378.5" width="15" height="2" fill="#fff" stroke="#9ed5b8" stroke-width="1" stroke-opacity="0.8"/>
<path d="M109.4,354.5 L97.6,360.6" stroke="#9ed5b8" stroke-width="3.3" stroke-linecap="butt"/>
<path d="M109.4,354.5 L97.6,360.6" stroke="#fff" stroke-width="1.4" stroke-linecap="butt"/>
<path d="M109.4,363.0 L97.6,369.2" stroke="#9ed5b8" stroke-width="3.3" stroke-linecap="butt"/>
<path d="M109.4,363.0 L97.6,369.2" stroke="#fff" stroke-width="1.4" stroke-linecap="butt"/>
<path d="M109.4,371.6 L97.6,377.7" stroke="#9ed5b8" stroke-width="3.3" stroke-linecap="butt"/>
<path d="M109.4,371.6 L97.6,377.7" stroke="#fff" stroke-width="1.4" stroke-linecap="butt"/>
<rect x="96.5" y="352.5" width="15" height="2" fill="#fff" stroke="#9ed5b8" stroke-width="1" stroke-opacity="0.8"/>
<rect x="96.5" y="361.5" width="15" height="2" fill="#fff" stroke="#9ed5b8" stroke-width="1" stroke-opacity="0.8"/>
<rect x="96.5" y="369.5" width="15" height="2" fill="#fff" stroke="#9ed5b8" stroke-width="1" stroke-opacity="0.8"/>
<rect x="96.5" y="378.5" width="15" height="2" fill="#fff" stroke="#9ed5b8" stroke-width="1" stroke-opacity="0.8"/>
<path d="M205.7,354.5 L193.9,360.6" stroke="#9ed5b8" stroke-width="3.3" stroke-linecap="butt"/>
<path d="M205.7,354.5 L193.9,360.6" stroke="#fff" stroke-width="1.4" stroke-linecap="butt"/>
<path d="M205.7,363.0 L193.9,369.2" stroke="#9ed5b8" stroke-width="3.3" stroke-linecap="butt"/>
<path d="M205.7,363.0 L193.9,369.2" stroke="#fff" stroke-width="1.4" stroke-linecap="butt"/>
<path d="M205.7,371.6 L193.9,377.7" stroke="#9ed5b8" stroke-width="3.3" stroke-linecap="butt"/>
<path d="M205.7,371.6 L193.9,377.7" stroke="#fff" stroke-width="1.4" stroke-linecap="butt"/>
<rect x="192.5" y="352.5" width="15" height="2" fill="#fff" stroke="#9ed5b8" stroke-width="1" stroke-opacity="0.8"/>
<rect x="192.5" y="361.5" width="15" height="2" fill="#fff" stroke="#9ed5b8" stroke-width="1" stroke-opacity="0.8"/>
<rect x="192.5" y="369.5" width="15" height="2" fill="#fff" stroke="#9ed5b8" stroke-width="1" stroke-opacity="0.8"/>
<rect x="192.5" y="378.5" width="15" height="2" fill="#fff" stroke="#9ed5b8" stroke-width="1" stroke-opacity="0.8"/>
<path d="M279.6,354.5 L267.8,360.6" stroke="#9ed5b8" stroke-width="3.3" stroke-linecap="butt"/>
<path d="M279.6,354.5 L267.8,360.6" stroke="#fff" stroke-width="1.4" stroke-linecap="butt"/>
<path d="M279.6,363.0 L267.8,369.2" stroke="#9ed5b8" stroke-width="3.3" stroke-linecap="butt"/>
<path d="M279.6,363.0 L267.8,369.2" stroke="#fff" stroke-width="1.4" stroke-linecap="butt"/>
<path d="M279.6,371.6 L267.8,377.7" stroke="#9ed5b8" stroke-width="3.3" stroke-linecap="butt"/>
<path d="M279.6,371.6 L267.8,377.7" stroke="#fff" stroke-width="1.4" stroke-linecap="butt"/>
<rect x="266.5" y="352.5" width="15" height="2" fill="#fff" stroke="#9ed5b8" stroke-width="1" stroke-opacity="0.8"/>
<rect x="266.5" y="361.5" width="15" height="2" fill="#fff" stroke="#9ed5b8" stroke-width="1" stroke-opacity="0.8"/>
<rect x="266.5" y="369.5" width="15" height="2" fill="#fff" stroke="#9ed5b8" stroke-width="1" stroke-opacity="0.8"/>
<rect x="266.5" y="378.5" width="15" height="2" fill="#fff" stroke="#9ed5b8" stroke-width="1" stroke-opacity="0.8"/>
<path d="M29.8,379.9 V386.2 H103.5 V379.9 M66.6,386.2 V393.7" stroke="#000" stroke-width="2" fill="none"/>
<path d="M199.8,379.9 V386.2 H273.7 V379.9 M237.4,386.2 V393.7" stroke="#000" stroke-width="2" fill="none"/>
<path d="M72.5,394.9 L60.7,401.4" stroke="#95bed3" stroke-width="3.3" stroke-linecap="butt"/>
<path d="M72.5,394.9 L60.7,401.4" stroke="#fff" stroke-width="1.4" stroke-linecap="butt"/>
<path d="M72.5,403.8 L60.7,410.3" stroke="#95bed3" stroke-width="3.3" stroke-linecap="butt"/>
<path d="M72.5,403.8 L60.7,410.3" stroke="#fff" stroke-width="1.4" stroke-linecap="butt"/>
<path d="M72.5,412.7 L60.7,419.2" stroke="#95bed3" stroke-width="3.3" stroke-linecap="butt"/>
<path d="M72.5,412.7 L60.7,419.2" stroke="#fff" stroke-width="1.4" stroke-linecap="butt"/>
<rect x="59.5" y="393.5" width="15" height="2" fill="#fff" stroke="#95bed3" stroke-width="1" stroke-opacity="0.8"/>
<rect x="59.5" y="402.5" width="15" height="2" fill="#fff" stroke="#95bed3" stroke-width="1" stroke-opacity="0.8"/>
<rect x="59.5" y="410.5" width="15" height="2" fill="#fff" stroke="#95bed3" stroke-width="1" stroke-opacity="0.8"/>
<rect x="59.5" y="419.5" width="15" height="2" fill="#fff" stroke="#95bed3" stroke-width="1" stroke-opacity="0.8"/>
<path d="M243.3,394.9 L231.5,401.4" stroke="#95bed3" stroke-width="3.3" stroke-linecap="butt"/>
<path d="M243.3,394.9 L231.5,401.4" stroke="#fff" stroke-width="1.4" stroke-linecap="butt"/>
<path d="M243.3,403.8 L231.5,410.3" stroke="#95bed3" stroke-width="3.3" stroke-linecap="butt"/>
<path d="M243.3,403.8 L231.5,410.3" stroke="#fff" stroke-width="1.4" stroke-linecap="butt"/>
<path d="M243.3,412.7 L231.5,419.2" stroke="#95bed3" stroke-width="3.3" stroke-linecap="butt"/>
<path d="M243.3,412.7 L231.5,419.2" stroke="#fff" stroke-width="1.4" stroke-linecap="butt"/>
<rect x="230.5" y="393.5" width="15" height="2" fill="#fff" stroke="#95bed3" stroke-width="1" stroke-opacity="0.8"/>
<rect x="230.5" y="402.5" width="15" height="2" fill="#fff" stroke="#95bed3" stroke-width="1" stroke-opacity="0.8"/>
<rect x="230.5" y="410.5" width="15" height="2" fill="#fff" stroke="#95bed3" stroke-width="1" stroke-opacity="0.8"/>
<rect x="230.5" y="419.5" width="15" height="2" fill="#fff" stroke="#95bed3" stroke-width="1" stroke-opacity="0.8"/>
<path d="M66.6,421.4 V427.4 H237.4 V421.4 M152.2,427.4 V434.9" stroke="#000" stroke-width="2" fill="none"/>
<path d="M158.1,436.1 L146.3,442.4" stroke="#a2a2e2" stroke-width="3.3" stroke-linecap="butt"/>
<path d="M158.1,436.1 L146.3,442.4" stroke="#fff" stroke-width="1.4" stroke-linecap="butt"/>
<path d="M158.1,444.8 L146.3,451.1" stroke="#a2a2e2" stroke-width="3.3" stroke-linecap="butt"/>
<path d="M158.1,444.8 L146.3,451.1" stroke="#fff" stroke-width="1.4" stroke-linecap="butt"/>
<path d="M158.1,453.5 L146.3,459.8" stroke="#a2a2e2" stroke-width="3.3" stroke-linecap="butt"/>
<path d="M158.1,453.5 L146.3,459.8" stroke="#fff" stroke-width="1.4" stroke-linecap="butt"/>
<rect x="145.5" y="434.5" width="15" height="2" fill="#fff" stroke="#a2a2e2" stroke-width="1" stroke-opacity="0.8"/>
<rect x="145.5" y="443.5" width="15" height="2" fill="#fff" stroke="#a2a2e2" stroke-width="1" stroke-opacity="0.8"/>
<rect x="145.5" y="451.5" width="15" height="2" fill="#fff" stroke="#a2a2e2" stroke-width="1" stroke-opacity="0.8"/>
<rect x="145.5" y="460.5" width="15" height="2" fill="#fff" stroke="#a2a2e2" stroke-width="1" stroke-opacity="0.8"/>
<path d="M152.2,462 V467.5" stroke="#000" stroke-width="2" fill="none"/>
<text x="10.4" y="346.8" font-size="10.6" text-anchor="end" fill="#000" font-weight="normal">31</text>
<text x="52.6" y="346.8" font-size="10.6" text-anchor="start" fill="#000" font-weight="normal">32</text>
<text x="84.4" y="346.8" font-size="10.6" text-anchor="end" fill="#000" font-weight="normal">33</text>
<text x="126" y="346.8" font-size="10.6" text-anchor="start" fill="#000" font-weight="normal">34</text>
<text x="180.4" y="346.8" font-size="10.6" text-anchor="end" fill="#000" font-weight="normal">35</text>
<text x="222.5" y="346.8" font-size="10.6" text-anchor="start" fill="#000" font-weight="normal">36</text>
<text x="254.4" y="346.8" font-size="10.6" text-anchor="end" fill="#000" font-weight="normal">37</text>
<text x="296.8" y="346.8" font-size="10.6" text-anchor="start" fill="#000" font-weight="normal">38</text>
<text x="28.2" y="388.0" font-size="10.6" text-anchor="end" fill="#000" font-weight="normal">21</text>
<text x="108.5" y="388.0" font-size="10.6" text-anchor="start" fill="#000" font-weight="normal">22</text>
<text x="198.20000000000002" y="388.0" font-size="10.6" text-anchor="end" fill="#000" font-weight="normal">23</text>
<text x="278.7" y="388.0" font-size="10.6" text-anchor="start" fill="#000" font-weight="normal">24</text>
<text x="65.0" y="429.2" font-size="10.6" text-anchor="end" fill="#000" font-weight="normal">11</text>
<text x="242.4" y="429.2" font-size="10.6" text-anchor="start" fill="#000" font-weight="normal">12</text>
<text x="150.6" y="468.8" font-size="10.6" text-anchor="end" fill="#000" font-weight="normal">01</text>
<text x="263.4" y="277.2" font-size="13" text-anchor="start" fill="#777" font-weight="normal">Wall</text>
<path d="M508.6,281 V288.7 M425.8,288.7 H591.3 M425.8,288.7 V296.2 M591.3,288.7 V296.2" stroke="#000" stroke-width="2" fill="none"/>
<path d="M389.9,296.2 H461.7 M389.9,296.2 V303 M461.7,296.2 V303" stroke="#000" stroke-width="2" fill="none"/>
<path d="M555.1,296.2 H627.4 M555.1,296.2 V303 M627.4,296.2 V303" stroke="#000" stroke-width="2" fill="none"/>
<path d="M372.9,303 H406.9 M372.9,303 V310.8 M406.9,303 V310.8" stroke="#000" stroke-width="2" fill="none"/>
<path d="M444.3,303 H479 M444.3,303 V310.8 M479,303 V310.8" stroke="#000" stroke-width="2" fill="none"/>
<path d="M537.8,303 H572.4 M537.8,303 V310.8 M572.4,303 V310.8" stroke="#000" stroke-width="2" fill="none"/>
<path d="M610.2,303 H644.5 M610.2,303 V310.8 M644.5,303 V310.8" stroke="#000" stroke-width="2" fill="none"/>
<path d="M365.4,310.8 H380.4 L365.4,318.8666666666667 H380.4 L365.4,326.93333333333334 H380.4 L365.4,335.0 H380.4" fill="none" stroke="#878787" stroke-width="2.1" stroke-linejoin="round"/>
<path d="M399.4,310.8 H414.4 L399.4,318.8666666666667 H414.4 L399.4,326.93333333333334 H414.4 L399.4,335.0 H414.4" fill="none" stroke="#878787" stroke-width="2.1" stroke-linejoin="round"/>
<path d="M436.8,310.8 H451.8 L436.8,318.8666666666667 H451.8 L436.8,326.93333333333334 H451.8 L436.8,335.0 H451.8" fill="none" stroke="#878787" stroke-width="2.1" stroke-linejoin="round"/>
<path d="M471.5,310.8 H486.5 L471.5,318.8666666666667 H486.5 L471.5,326.93333333333334 H486.5 L471.5,335.0 H486.5" fill="none" stroke="#878787" stroke-width="2.1" stroke-linejoin="round"/>
<path d="M530.3,310.8 H545.3 L530.3,318.8666666666667 H545.3 L530.3,326.93333333333334 H545.3 L530.3,335.0 H545.3" fill="none" stroke="#878787" stroke-width="2.1" stroke-linejoin="round"/>
<path d="M564.9,310.8 H579.9 L564.9,318.8666666666667 H579.9 L564.9,326.93333333333334 H579.9 L564.9,335.0 H579.9" fill="none" stroke="#878787" stroke-width="2.1" stroke-linejoin="round"/>
<path d="M602.7,310.8 H617.7 L602.7,318.8666666666667 H617.7 L602.7,326.93333333333334 H617.7 L602.7,335.0 H617.7" fill="none" stroke="#878787" stroke-width="2.1" stroke-linejoin="round"/>
<path d="M637.0,310.8 H652.0 L637.0,318.8666666666667 H652.0 L637.0,326.93333333333334 H652.0 L637.0,335.0 H652.0" fill="none" stroke="#878787" stroke-width="2.1" stroke-linejoin="round"/>
<path d="M372.9,336 V342.7 H406.9 V336 M389.9,342.7 V350.8" stroke="#000" stroke-width="2" fill="none"/>
<path d="M444.3,336 V342.7 H479 V336 M461.7,342.7 V350.8" stroke="#000" stroke-width="2" fill="none"/>
<path d="M537.8,336 V342.7 H572.4 V336 M555.1,342.7 V350.8" stroke="#000" stroke-width="2" fill="none"/>
<path d="M610.2,336 V342.7 H644.5 V336 M627.4,342.7 V350.8" stroke="#000" stroke-width="2" fill="none"/>
<path d="M382.4,350.8 H397.4 L382.4,359.06666666666666 H397.4 L382.4,367.33333333333337 H397.4 L382.4,375.6 H397.4" fill="none" stroke="#4fb482" stroke-width="2.1" stroke-linejoin="round"/>
<path d="M454.2,350.8 H469.2 L454.2,359.06666666666666 H469.2 L454.2,367.33333333333337 H469.2 L454.2,375.6 H469.2" fill="none" stroke="#4fb482" stroke-width="2.1" stroke-linejoin="round"/>
<path d="M547.6,350.8 H562.6 L547.6,359.06666666666666 H562.6 L547.6,367.33333333333337 H562.6 L547.6,375.6 H562.6" fill="none" stroke="#4fb482" stroke-width="2.1" stroke-linejoin="round"/>
<path d="M619.9,350.8 H634.9 L619.9,359.06666666666666 H634.9 L619.9,367.33333333333337 H634.9 L619.9,375.6 H634.9" fill="none" stroke="#4fb482" stroke-width="2.1" stroke-linejoin="round"/>
<path d="M389.9,376.6 V382.7 H461.7 V376.6 M425.8,382.7 V390.8" stroke="#000" stroke-width="2" fill="none"/>
<path d="M555.1,376.6 V382.7 H627.4 V376.6 M591.3,382.7 V390.8" stroke="#000" stroke-width="2" fill="none"/>
<path d="M418.3,390.8 H433.3 L418.3,399.06666666666666 H433.3 L418.3,407.33333333333337 H433.3 L418.3,415.6 H433.3" fill="none" stroke="#2b7ea6" stroke-width="2.1" stroke-linejoin="round"/>
<path d="M583.8,390.8 H598.8 L583.8,399.06666666666666 H598.8 L583.8,407.33333333333337 H598.8 L583.8,415.6 H598.8" fill="none" stroke="#2b7ea6" stroke-width="2.1" stroke-linejoin="round"/>
<path d="M425.8,416.6 V422.4 H591.3 V416.6 M508.6,422.4 V430" stroke="#000" stroke-width="2" fill="none"/>
<path d="M514.5,431.2 L502.7,437.7" stroke="#9a9ade" stroke-width="3.3" stroke-linecap="butt"/>
<path d="M514.5,431.2 L502.7,437.7" stroke="#fff" stroke-width="1.4" stroke-linecap="butt"/>
<path d="M514.5,440.1 L502.7,446.6" stroke="#9a9ade" stroke-width="3.3" stroke-linecap="butt"/>
<path d="M514.5,440.1 L502.7,446.6" stroke="#fff" stroke-width="1.4" stroke-linecap="butt"/>
<path d="M514.5,449.0 L502.7,455.5" stroke="#9a9ade" stroke-width="3.3" stroke-linecap="butt"/>
<path d="M514.5,449.0 L502.7,455.5" stroke="#fff" stroke-width="1.4" stroke-linecap="butt"/>
<rect x="501.5" y="429.5" width="15" height="2" fill="#fff" stroke="#9a9ade" stroke-width="1" stroke-opacity="0.8"/>
<rect x="501.5" y="438.5" width="15" height="2" fill="#fff" stroke="#9a9ade" stroke-width="1" stroke-opacity="0.8"/>
<rect x="501.5" y="447.5" width="15" height="2" fill="#fff" stroke="#9a9ade" stroke-width="1" stroke-opacity="0.8"/>
<rect x="501.5" y="456.5" width="15" height="2" fill="#fff" stroke="#9a9ade" stroke-width="1" stroke-opacity="0.8"/>
<path d="M508.6,457.7 V464.5" stroke="#000" stroke-width="2" fill="none"/>
<text x="370.4" y="346.3" font-size="10.8" text-anchor="end" fill="#000" font-weight="normal">31</text>
<text x="409.5" y="346.3" font-size="10.8" text-anchor="start" fill="#000" font-weight="normal">32</text>
<text x="441.8" y="346.3" font-size="10.8" text-anchor="end" fill="#000" font-weight="normal">33</text>
<text x="481.6" y="346.3" font-size="10.8" text-anchor="start" fill="#000" font-weight="normal">34</text>
<text x="535.3" y="346.3" font-size="10.8" text-anchor="end" fill="#000" font-weight="normal">35</text>
<text x="575.0" y="346.3" font-size="10.8" text-anchor="start" fill="#000" font-weight="normal">36</text>
<text x="607.7" y="346.3" font-size="10.8" text-anchor="end" fill="#000" font-weight="normal">37</text>
<text x="647.1" y="346.3" font-size="10.8" text-anchor="start" fill="#000" font-weight="normal">38</text>
<text x="387.4" y="386.3" font-size="10.8" text-anchor="end" fill="#000" font-weight="normal">21</text>
<text x="464.3" y="386.3" font-size="10.8" text-anchor="start" fill="#000" font-weight="normal">22</text>
<text x="552.6" y="386.3" font-size="10.8" text-anchor="end" fill="#000" font-weight="normal">23</text>
<text x="630.0" y="386.3" font-size="10.8" text-anchor="start" fill="#000" font-weight="normal">24</text>
<text x="423.3" y="426.0" font-size="10.8" text-anchor="end" fill="#000" font-weight="normal">11</text>
<text x="593.9" y="426.0" font-size="10.8" text-anchor="start" fill="#000" font-weight="normal">12</text>
<text x="506.1" y="467.6" font-size="10.8" text-anchor="end" fill="#000" font-weight="normal">01</text>
<text x="602.4" y="277.6" font-size="13.2" text-anchor="start" fill="#c9a020" font-weight="normal">Holo</text>
<rect x="75.6" y="505.8" width="252.6" height="187.7" fill="none" stroke="#bcbcbc" stroke-width="1"/>
<line x1="75.6" y1="686.3" x2="78.1" y2="686.3" stroke="#bcbcbc"/>
<line x1="328.2" y1="686.3" x2="325.7" y2="686.3" stroke="#bcbcbc"/>
<text x="69.4" y="688.6999999999999" font-size="13" text-anchor="end" fill="#000" font-weight="normal">0</text>
<line x1="75.6" y1="650.1999999999999" x2="78.1" y2="650.1999999999999" stroke="#bcbcbc"/>
<line x1="328.2" y1="650.1999999999999" x2="325.7" y2="650.1999999999999" stroke="#bcbcbc"/>
<text x="69.4" y="652.5999999999999" font-size="13" text-anchor="end" fill="#000" font-weight="normal">0.05</text>
<line x1="75.6" y1="614.0999999999999" x2="78.1" y2="614.0999999999999" stroke="#bcbcbc"/>
<line x1="328.2" y1="614.0999999999999" x2="325.7" y2="614.0999999999999" stroke="#bcbcbc"/>
<text x="69.4" y="616.4999999999999" font-size="13" text-anchor="end" fill="#000" font-weight="normal">0.1</text>
<line x1="75.6" y1="578.0" x2="78.1" y2="578.0" stroke="#bcbcbc"/>
<line x1="328.2" y1="578.0" x2="325.7" y2="578.0" stroke="#bcbcbc"/>
<text x="69.4" y="580.4" font-size="13" text-anchor="end" fill="#000" font-weight="normal">0.15</text>
<line x1="75.6" y1="541.9" x2="78.1" y2="541.9" stroke="#bcbcbc"/>
<line x1="328.2" y1="541.9" x2="325.7" y2="541.9" stroke="#bcbcbc"/>
<text x="69.4" y="544.3" font-size="13" text-anchor="end" fill="#000" font-weight="normal">0.2</text>
<line x1="75.6" y1="505.79999999999995" x2="78.1" y2="505.79999999999995" stroke="#bcbcbc"/>
<line x1="328.2" y1="505.79999999999995" x2="325.7" y2="505.79999999999995" stroke="#bcbcbc"/>
<text x="69.4" y="508.19999999999993" font-size="13" text-anchor="end" fill="#000" font-weight="normal">0.25</text>
<line x1="80.9" y1="693.5" x2="80.9" y2="691.0" stroke="#bcbcbc"/>
<line x1="80.9" y1="505.8" x2="80.9" y2="508.3" stroke="#bcbcbc"/>
<text x="82.5" y="706.8" font-size="13" text-anchor="middle" fill="#000" font-weight="normal">0</text>
<line x1="141.025" y1="693.5" x2="141.025" y2="691.0" stroke="#bcbcbc"/>
<line x1="141.025" y1="505.8" x2="141.025" y2="508.3" stroke="#bcbcbc"/>
<text x="142.625" y="706.8" font-size="13" text-anchor="middle" fill="#000" font-weight="normal">100</text>
<line x1="201.14999999999998" y1="693.5" x2="201.14999999999998" y2="691.0" stroke="#bcbcbc"/>
<line x1="201.14999999999998" y1="505.8" x2="201.14999999999998" y2="508.3" stroke="#bcbcbc"/>
<text x="202.74999999999997" y="706.8" font-size="13" text-anchor="middle" fill="#000" font-weight="normal">200</text>
<line x1="261.275" y1="693.5" x2="261.275" y2="691.0" stroke="#bcbcbc"/>
<line x1="261.275" y1="505.8" x2="261.275" y2="508.3" stroke="#bcbcbc"/>
<text x="262.875" y="706.8" font-size="13" text-anchor="middle" fill="#000" font-weight="normal">300</text>
<line x1="321.4" y1="693.5" x2="321.4" y2="691.0" stroke="#bcbcbc"/>
<line x1="321.4" y1="505.8" x2="321.4" y2="508.3" stroke="#bcbcbc"/>
<text x="323.0" y="706.8" font-size="13" text-anchor="middle" fill="#000" font-weight="normal">400</text>
<text x="164.7" y="728.5" font-size="13" text-anchor="start" fill="#000" font-weight="normal"><tspan style="font-family:Liberation Serif">Δ</tspan><tspan font-style="italic">p</tspan> (mbar)</text>
<g transform="translate(31.8,616) rotate(-90)"><text x="0" y="0" font-size="13">v (m/s)</text><line x1="0.9" y1="-9.6" x2="5.7" y2="-9.6" stroke="#000" stroke-width="0.9"/></g>
<path d="M81.4,686.3 L93.4,675.8 L105.5,666.8 L117.5,658.5 L129.5,649.9 L141.5,642.1 L156.6,632.2 L171.6,622.8 L201.6,605.0 L231.7,588.7 L261.8,570.1 L291.8,548.8 L321.9,528.9" fill="none" stroke="#d0d4ee" stroke-width="1.1"/>
<path d="M81.4,686.3 L93.4,677.9 L105.5,669.9 L117.5,666.2 L129.5,657.4 L141.5,651.2 L156.6,642.4 L171.6,636.0 L201.6,617.3 L231.7,605.0 L261.8,589.2 L291.8,572.5 L321.9,556.1" fill="none" stroke="#d6f0e2" stroke-width="1.1"/>
<path d="M81.4,681.0 L85.5,686.3 L81.4,691.6 L77.3,686.3 Z" fill="#0c3d90"/>
<path d="M81.4,682.7 L84.1,686.3 L81.4,689.9 L78.7,686.3 Z" fill="#1f8ef5"/>
<path d="M93.4,670.5 L97.5,675.8 L93.4,681.1 L89.3,675.8 Z" fill="#0c3d90"/>
<path d="M93.4,672.2 L96.1,675.8 L93.4,679.4 L90.7,675.8 Z" fill="#1f8ef5"/>
<path d="M105.5,661.5 L109.5,666.8 L105.5,672.1 L101.4,666.8 Z" fill="#0c3d90"/>
<path d="M105.5,663.2 L108.2,666.8 L105.5,670.4 L102.8,666.8 Z" fill="#1f8ef5"/>
<path d="M117.5,653.2 L121.6,658.5 L117.5,663.8 L113.4,658.5 Z" fill="#0c3d90"/>
<path d="M117.5,654.9 L120.2,658.5 L117.5,662.1 L114.8,658.5 Z" fill="#1f8ef5"/>
<path d="M129.5,644.6 L133.6,649.9 L129.5,655.2 L125.4,649.9 Z" fill="#0c3d90"/>
<path d="M129.5,646.3 L132.2,649.9 L129.5,653.5 L126.8,649.9 Z" fill="#1f8ef5"/>
<path d="M141.5,636.8 L145.6,642.1 L141.5,647.4 L137.4,642.1 Z" fill="#0c3d90"/>
<path d="M141.5,638.5 L144.2,642.1 L141.5,645.7 L138.8,642.1 Z" fill="#1f8ef5"/>
<path d="M156.6,626.9 L160.7,632.2 L156.6,637.5 L152.5,632.2 Z" fill="#0c3d90"/>
<path d="M156.6,628.6 L159.3,632.2 L156.6,635.8 L153.9,632.2 Z" fill="#1f8ef5"/>
<path d="M171.6,617.5 L175.7,622.8 L171.6,628.1 L167.5,622.8 Z" fill="#0c3d90"/>
<path d="M171.6,619.2 L174.3,622.8 L171.6,626.4 L168.9,622.8 Z" fill="#1f8ef5"/>
<path d="M201.6,599.7 L205.7,605.0 L201.6,610.3 L197.5,605.0 Z" fill="#0c3d90"/>
<path d="M201.6,601.4 L204.3,605.0 L201.6,608.6 L198.9,605.0 Z" fill="#1f8ef5"/>
<path d="M231.7,583.4 L235.8,588.7 L231.7,594.0 L227.6,588.7 Z" fill="#0c3d90"/>
<path d="M231.7,585.1 L234.4,588.7 L231.7,592.3 L229.0,588.7 Z" fill="#1f8ef5"/>
<path d="M261.8,564.8 L265.9,570.1 L261.8,575.4 L257.7,570.1 Z" fill="#0c3d90"/>
<path d="M261.8,566.5 L264.5,570.1 L261.8,573.7 L259.1,570.1 Z" fill="#1f8ef5"/>
<path d="M291.8,543.5 L295.9,548.8 L291.8,554.1 L287.7,548.8 Z" fill="#0c3d90"/>
<path d="M291.8,545.2 L294.5,548.8 L291.8,552.4 L289.1,548.8 Z" fill="#1f8ef5"/>
<path d="M321.9,523.6 L326.0,528.9 L321.9,534.2 L317.8,528.9 Z" fill="#0c3d90"/>
<path d="M321.9,525.3 L324.6,528.9 L321.9,532.5 L319.2,528.9 Z" fill="#1f8ef5"/>
<path d="M81.4,680.4 L86.0,686.3 L81.4,692.2 L76.8,686.3 Z" fill="#3fa673"/>
<path d="M81.4,682.0 L84.7,686.3 L81.4,690.6 L78.1,686.3 Z" fill="#c4ead0"/>
<path d="M81.4,683.4 L83.6,686.3 L81.4,689.2 L79.2,686.3 Z" fill="#6ad92c"/>
<path d="M93.4,672.0 L98.0,677.9 L93.4,683.8 L88.8,677.9 Z" fill="#3fa673"/>
<path d="M93.4,673.6 L96.7,677.9 L93.4,682.2 L90.1,677.9 Z" fill="#c4ead0"/>
<path d="M93.4,675.0 L95.6,677.9 L93.4,680.8 L91.2,677.9 Z" fill="#6ad92c"/>
<path d="M105.5,664.0 L110.0,669.9 L105.5,675.8 L100.9,669.9 Z" fill="#3fa673"/>
<path d="M105.5,665.6 L108.8,669.9 L105.5,674.2 L102.2,669.9 Z" fill="#c4ead0"/>
<path d="M105.5,667.0 L107.7,669.9 L105.5,672.8 L103.2,669.9 Z" fill="#6ad92c"/>
<path d="M117.5,660.3 L122.1,666.2 L117.5,672.1 L112.9,666.2 Z" fill="#3fa673"/>
<path d="M117.5,661.9 L120.8,666.2 L117.5,670.5 L114.2,666.2 Z" fill="#c4ead0"/>
<path d="M117.5,663.3 L119.7,666.2 L117.5,669.1 L115.3,666.2 Z" fill="#6ad92c"/>
<path d="M129.5,651.5 L134.1,657.4 L129.5,663.3 L124.9,657.4 Z" fill="#3fa673"/>
<path d="M129.5,653.1 L132.8,657.4 L129.5,661.7 L126.2,657.4 Z" fill="#c4ead0"/>
<path d="M129.5,654.5 L131.7,657.4 L129.5,660.3 L127.3,657.4 Z" fill="#6ad92c"/>
<path d="M141.5,645.3 L146.1,651.2 L141.5,657.1 L136.9,651.2 Z" fill="#3fa673"/>
<path d="M141.5,646.9 L144.8,651.2 L141.5,655.5 L138.2,651.2 Z" fill="#c4ead0"/>
<path d="M141.5,648.3 L143.7,651.2 L141.5,654.1 L139.3,651.2 Z" fill="#6ad92c"/>
<path d="M156.6,636.5 L161.2,642.4 L156.6,648.3 L152.0,642.4 Z" fill="#3fa673"/>
<path d="M156.6,638.1 L159.9,642.4 L156.6,646.7 L153.3,642.4 Z" fill="#c4ead0"/>
<path d="M156.6,639.5 L158.8,642.4 L156.6,645.3 L154.4,642.4 Z" fill="#6ad92c"/>
<path d="M171.6,630.1 L176.2,636.0 L171.6,641.9 L167.0,636.0 Z" fill="#3fa673"/>
<path d="M171.6,631.7 L174.9,636.0 L171.6,640.3 L168.3,636.0 Z" fill="#c4ead0"/>
<path d="M171.6,633.1 L173.8,636.0 L171.6,638.9 L169.4,636.0 Z" fill="#6ad92c"/>
<path d="M201.6,611.4 L206.2,617.3 L201.6,623.2 L197.0,617.3 Z" fill="#3fa673"/>
<path d="M201.6,613.0 L204.9,617.3 L201.6,621.6 L198.3,617.3 Z" fill="#c4ead0"/>
<path d="M201.6,614.4 L203.8,617.3 L201.6,620.2 L199.4,617.3 Z" fill="#6ad92c"/>
<path d="M231.7,599.1 L236.3,605.0 L231.7,610.9 L227.1,605.0 Z" fill="#3fa673"/>
<path d="M231.7,600.7 L235.0,605.0 L231.7,609.3 L228.4,605.0 Z" fill="#c4ead0"/>
<path d="M231.7,602.1 L233.9,605.0 L231.7,607.9 L229.5,605.0 Z" fill="#6ad92c"/>
<path d="M261.8,583.3 L266.4,589.2 L261.8,595.1 L257.2,589.2 Z" fill="#3fa673"/>
<path d="M261.8,584.9 L265.1,589.2 L261.8,593.5 L258.5,589.2 Z" fill="#c4ead0"/>
<path d="M261.8,586.3 L264.0,589.2 L261.8,592.1 L259.6,589.2 Z" fill="#6ad92c"/>
<path d="M291.8,566.6 L296.4,572.5 L291.8,578.4 L287.2,572.5 Z" fill="#3fa673"/>
<path d="M291.8,568.2 L295.1,572.5 L291.8,576.8 L288.5,572.5 Z" fill="#c4ead0"/>
<path d="M291.8,569.6 L294.0,572.5 L291.8,575.4 L289.6,572.5 Z" fill="#6ad92c"/>
<path d="M321.9,550.2 L326.5,556.1 L321.9,562.0 L317.3,556.1 Z" fill="#3fa673"/>
<path d="M321.9,551.8 L325.2,556.1 L321.9,560.4 L318.6,556.1 Z" fill="#c4ead0"/>
<path d="M321.9,553.2 L324.1,556.1 L321.9,559.0 L319.7,556.1 Z" fill="#6ad92c"/>
<rect x="81.1" y="511.2" width="58.2" height="39.2" fill="#fff" stroke="#9a9a9a" stroke-width="0.9"/>
<path d="M94.9,518.8 L97.3,522.0 L94.9,525.2 L92.5,522.0 Z" fill="#1d4f9c"/>
<path d="M94.9,536.6 L97.5,540.0 L94.9,543.4 L92.3,540.0 Z" fill="#fff" stroke="#3faf7c" stroke-width="1.1"/>
<text x="108.6" y="524.4" font-size="13" text-anchor="start" fill="#000" font-weight="normal">Holo</text>
<text x="108.6" y="541.2" font-size="13" text-anchor="start" fill="#000" font-weight="normal">Wall</text>
<rect x="414.5" y="502.3" width="211.60000000000002" height="188.8" fill="none" stroke="#bcbcbc" stroke-width="1"/>
<line x1="414.5" y1="674.6" x2="417.0" y2="674.6" stroke="#bcbcbc"/>
<text x="407.6" y="678.1" font-size="13" text-anchor="end" fill="#000" font-weight="normal">0</text>
<line x1="414.5" y1="640.26" x2="417.0" y2="640.26" stroke="#bcbcbc"/>
<text x="407.6" y="643.76" font-size="13" text-anchor="end" fill="#000" font-weight="normal">0.01</text>
<line x1="414.5" y1="605.9200000000001" x2="417.0" y2="605.9200000000001" stroke="#bcbcbc"/>
<text x="407.6" y="609.4200000000001" font-size="13" text-anchor="end" fill="#000" font-weight="normal">0.02</text>
<line x1="414.5" y1="571.58" x2="417.0" y2="571.58" stroke="#bcbcbc"/>
<text x="407.6" y="575.08" font-size="13" text-anchor="end" fill="#000" font-weight="normal">0.03</text>
<line x1="414.5" y1="537.24" x2="417.0" y2="537.24" stroke="#bcbcbc"/>
<text x="407.6" y="540.74" font-size="13" text-anchor="end" fill="#000" font-weight="normal">0.04</text>
<line x1="414.5" y1="502.9" x2="417.0" y2="502.9" stroke="#bcbcbc"/>
<text x="407.6" y="506.4" font-size="13" text-anchor="end" fill="#000" font-weight="normal">0.05</text>
<line x1="626.1" y1="660.1" x2="623.6" y2="660.1" stroke="#bcbcbc"/>
<text x="633.8" y="661.6" font-size="13" text-anchor="start" fill="#000" font-weight="normal">1</text>
<line x1="626.1" y1="597.1500000000001" x2="623.6" y2="597.1500000000001" stroke="#bcbcbc"/>
<text x="633.8" y="598.6500000000001" font-size="13" text-anchor="start" fill="#000" font-weight="normal">1.2</text>
<line x1="626.1" y1="534.2" x2="623.6" y2="534.2" stroke="#bcbcbc"/>
<text x="633.8" y="535.7" font-size="13" text-anchor="start" fill="#000" font-weight="normal">1.4</text>
<line x1="422.2" y1="691.1" x2="422.2" y2="688.6" stroke="#bcbcbc"/>
<line x1="422.2" y1="502.3" x2="422.2" y2="504.8" stroke="#bcbcbc"/>
<text x="422.8" y="706.8" font-size="13" text-anchor="middle" fill="#000" font-weight="normal">0</text>
<line x1="471.34999999999997" y1="691.1" x2="471.34999999999997" y2="688.6" stroke="#bcbcbc"/>
<line x1="471.34999999999997" y1="502.3" x2="471.34999999999997" y2="504.8" stroke="#bcbcbc"/>
<text x="471.95" y="706.8" font-size="13" text-anchor="middle" fill="#000" font-weight="normal">100</text>
<line x1="520.5" y1="691.1" x2="520.5" y2="688.6" stroke="#bcbcbc"/>
<line x1="520.5" y1="502.3" x2="520.5" y2="504.8" stroke="#bcbcbc"/>
<text x="521.1" y="706.8" font-size="13" text-anchor="middle" fill="#000" font-weight="normal">200</text>
<line x1="569.65" y1="691.1" x2="569.65" y2="688.6" stroke="#bcbcbc"/>
<line x1="569.65" y1="502.3" x2="569.65" y2="504.8" stroke="#bcbcbc"/>
<text x="570.25" y="706.8" font-size="13" text-anchor="middle" fill="#000" font-weight="normal">300</text>
<line x1="618.8" y1="691.1" x2="618.8" y2="688.6" stroke="#bcbcbc"/>
<line x1="618.8" y1="502.3" x2="618.8" y2="504.8" stroke="#bcbcbc"/>
<text x="619.4" y="706.8" font-size="13" text-anchor="middle" fill="#000" font-weight="normal">400</text>
<text x="493.3" y="727.3" font-size="13" text-anchor="start" fill="#000" font-weight="normal"><tspan style="font-family:Liberation Serif">Δ</tspan><tspan font-style="italic">p</tspan> (mbar)</text>
<g transform="translate(368.2,616) rotate(-90)"><text x="0" y="0" font-size="13"><tspan style="font-family:Liberation Serif">Δ</tspan><tspan font-style="italic">v</tspan> (m/s)</text><line x1="10.4" y1="-9.8" x2="15.8" y2="-9.8" stroke="#000" stroke-width="0.9"/></g>
<g transform="translate(673,607.3) rotate(-90)"><text x="0" y="0" font-size="13">v<tspan font-size="9.5" dy="3.6">rel</tspan></text><line x1="0.6" y1="-9.7" x2="6" y2="-9.7" stroke="#000" stroke-width="0.9"/></g>
<path d="M422.2,674.7 L432.0,664.3 L441.9,659.4 L451.7,638.9 L461.5,641.1 L471.3,637.0 L483.6,627.3 L495.9,614.8 L520.5,615.4 L545.1,595.5 L569.6,584.3 L594.2,561.2 L618.8,545.4" fill="none" stroke="#c9cde9" stroke-width="1.1"/>
<path d="M432.0,579.1 L441.9,598.4 L451.7,544.1 L461.5,584.3 L471.3,591.4 L483.6,589.7 L495.9,581.7 L520.5,602.9 L545.1,595.5 L569.6,598.4 L594.2,593.9 L618.8,593.9" fill="none" stroke="#cfeee0" stroke-width="1.1"/>
<path d="M422.2,660.4 L432.0,579.1" fill="none" stroke="#cfeee0" stroke-width="1.1" stroke-dasharray="3 2"/>
<path d="M422.2,669.4 L426.3,674.7 L422.2,680.0 L418.1,674.7 Z" fill="#0d3d8e"/>
<path d="M422.2,671.3 L424.8,674.7 L422.2,678.1 L419.6,674.7 Z" fill="#5ab5f0"/>
<path d="M432.0,659.0 L436.1,664.3 L432.0,669.6 L427.9,664.3 Z" fill="#0d3d8e"/>
<path d="M432.0,660.9 L434.6,664.3 L432.0,667.7 L429.4,664.3 Z" fill="#5ab5f0"/>
<path d="M441.9,654.1 L446.0,659.4 L441.9,664.7 L437.8,659.4 Z" fill="#0d3d8e"/>
<path d="M441.9,656.0 L444.5,659.4 L441.9,662.8 L439.3,659.4 Z" fill="#5ab5f0"/>
<path d="M451.7,633.6 L455.8,638.9 L451.7,644.2 L447.6,638.9 Z" fill="#0d3d8e"/>
<path d="M451.7,635.5 L454.3,638.9 L451.7,642.3 L449.1,638.9 Z" fill="#5ab5f0"/>
<path d="M461.5,635.8 L465.6,641.1 L461.5,646.4 L457.4,641.1 Z" fill="#0d3d8e"/>
<path d="M461.5,637.7 L464.1,641.1 L461.5,644.5 L458.9,641.1 Z" fill="#5ab5f0"/>
<path d="M471.3,631.7 L475.4,637.0 L471.3,642.3 L467.2,637.0 Z" fill="#0d3d8e"/>
<path d="M471.3,633.6 L473.9,637.0 L471.3,640.4 L468.7,637.0 Z" fill="#5ab5f0"/>
<path d="M483.6,622.0 L487.7,627.3 L483.6,632.6 L479.5,627.3 Z" fill="#0d3d8e"/>
<path d="M483.6,623.9 L486.2,627.3 L483.6,630.7 L481.0,627.3 Z" fill="#5ab5f0"/>
<path d="M495.9,609.5 L500.0,614.8 L495.9,620.1 L491.8,614.8 Z" fill="#0d3d8e"/>
<path d="M495.9,611.4 L498.5,614.8 L495.9,618.2 L493.3,614.8 Z" fill="#5ab5f0"/>
<path d="M495.9,611.9 V617.7 M494.1,611.9 H497.7 M494.1,617.7 H497.7" stroke="#62c4f6" stroke-width="1.4" fill="none"/>
<path d="M520.5,610.1 L524.6,615.4 L520.5,620.7 L516.4,615.4 Z" fill="#0d3d8e"/>
<path d="M520.5,611.9 V618.9 M518.7,611.9 H522.3 M518.7,618.9 H522.3" stroke="#62c4f6" stroke-width="1.4" fill="none"/>
<path d="M545.1,590.2 L549.2,595.5 L545.1,600.8 L541.0,595.5 Z" fill="#0d3d8e"/>
<path d="M545.1,591.8 V599.2 M543.3,591.8 H546.9 M543.3,599.2 H546.9" stroke="#62c4f6" stroke-width="1.4" fill="none"/>
<path d="M569.6,579.0 L573.8,584.3 L569.6,589.6 L565.5,584.3 Z" fill="#0d3d8e"/>
<path d="M569.6,580.0 V588.6 M567.9,580.0 H571.4 M567.9,588.6 H571.4" stroke="#62c4f6" stroke-width="1.4" fill="none"/>
<path d="M594.2,555.9 L598.3,561.2 L594.2,566.5 L590.1,561.2 Z" fill="#0d3d8e"/>
<path d="M594.2,556.7 V565.7 M592.4,556.7 H596.0 M592.4,565.7 H596.0" stroke="#62c4f6" stroke-width="1.4" fill="none"/>
<path d="M618.8,540.1 L622.9,545.4 L618.8,550.7 L614.7,545.4 Z" fill="#0d3d8e"/>
<path d="M618.8,540.1 V550.7 M617.0,540.1 H620.6 M617.0,550.7 H620.6" stroke="#62c4f6" stroke-width="1.4" fill="none"/>
<path d="M422.2,655.3 L426.2,660.4 L422.2,665.5 L418.2,660.4 Z" fill="#2ef02e"/>
<path d="M432.0,573.8 L436.2,579.1 L432.0,584.4 L427.8,579.1 Z" fill="#3a9d6b"/>
<path d="M432.0,574.9 L435.2,579.1 L432.0,583.3 L428.8,579.1 Z" fill="#22e84a"/>
<path d="M441.9,593.1 L446.1,598.4 L441.9,603.7 L437.7,598.4 Z" fill="#3a9d6b"/>
<path d="M441.9,594.2 L445.1,598.4 L441.9,602.6 L438.7,598.4 Z" fill="#22e84a"/>
<path d="M451.7,538.8 L455.9,544.1 L451.7,549.4 L447.5,544.1 Z" fill="#3a9d6b"/>
<path d="M451.7,539.9 L454.9,544.1 L451.7,548.3 L448.5,544.1 Z" fill="#22e84a"/>
<path d="M461.5,579.0 L465.7,584.3 L461.5,589.6 L457.3,584.3 Z" fill="#3a9d6b"/>
<path d="M461.5,580.1 L464.7,584.3 L461.5,588.5 L458.3,584.3 Z" fill="#22e84a"/>
<path d="M471.3,586.1 L475.5,591.4 L471.3,596.7 L467.1,591.4 Z" fill="#3a9d6b"/>
<path d="M471.3,587.2 L474.5,591.4 L471.3,595.6 L468.1,591.4 Z" fill="#22e84a"/>
<path d="M483.6,584.4 L487.8,589.7 L483.6,595.0 L479.4,589.7 Z" fill="#3a9d6b"/>
<path d="M483.6,585.5 L486.8,589.7 L483.6,593.9 L480.4,589.7 Z" fill="#22e84a"/>
<path d="M495.9,576.4 L500.1,581.7 L495.9,587.0 L491.7,581.7 Z" fill="#3a9d6b"/>
<path d="M495.9,577.5 L499.1,581.7 L495.9,585.9 L492.7,581.7 Z" fill="#22e84a"/>
<path d="M520.5,597.6 L524.7,602.9 L520.5,608.2 L516.3,602.9 Z" fill="#3a9d6b"/>
<path d="M520.5,598.7 L523.7,602.9 L520.5,607.1 L517.3,602.9 Z" fill="#22e84a"/>
<path d="M545.1,590.2 L549.3,595.5 L545.1,600.8 L540.9,595.5 Z" fill="#3a9d6b"/>
<path d="M545.1,591.3 L548.3,595.5 L545.1,599.7 L541.9,595.5 Z" fill="#22e84a"/>
<path d="M569.6,593.1 L573.9,598.4 L569.6,603.7 L565.4,598.4 Z" fill="#3a9d6b"/>
<path d="M569.6,594.2 L572.9,598.4 L569.6,602.6 L566.4,598.4 Z" fill="#22e84a"/>
<path d="M594.2,588.6 L598.4,593.9 L594.2,599.2 L590.0,593.9 Z" fill="#3a9d6b"/>
<path d="M594.2,589.7 L597.4,593.9 L594.2,598.1 L591.0,593.9 Z" fill="#22e84a"/>
<path d="M618.8,588.6 L623.0,593.9 L618.8,599.2 L614.6,593.9 Z" fill="#3a9d6b"/>
<path d="M618.8,589.7 L622.0,593.9 L618.8,598.1 L615.6,593.9 Z" fill="#22e84a"/>
<rect x="421.7" y="508.5" width="98.3" height="26.6" fill="#fff" stroke="#9a9a9a" stroke-width="0.9"/>
<path d="M435.4,519.2 L437.8,522.4 L435.4,525.6 L433.0,522.4 Z" fill="#1d4f9c"/>
<path d="M484.3,519.0 L486.9,522.4 L484.3,525.8 L481.7,522.4 Z" fill="#3faf7c"/>
<text x="446.8" y="526.8" font-size="13"><tspan style="font-family:Liberation Serif">Δ</tspan><tspan font-style="italic">v</tspan></text><line x1="457" y1="517.2" x2="462.5" y2="517.2" stroke="#000" stroke-width="0.9"/>
<text x="492.8" y="526.8" font-size="13"><tspan font-style="italic">v</tspan><tspan font-size="10" dy="3">rel</tspan></text><line x1="494.2" y1="517.2" x2="499.6" y2="517.2" stroke="#000" stroke-width="0.9"/>
<path d="M459,541.1 H471" stroke="#3aa877" stroke-width="2.6"/>
<path d="M469.5,537.4 L478.3,541.1 L469.5,544.8 Z" fill="#3aa877"/>
<path d="M586.5,557.6 H575" stroke="#1d3f8c" stroke-width="2.6"/>
<path d="M576.5,553.9 L567.4,557.6 L576.5,561.3 Z" fill="#1d3f8c"/>
</svg>
</body></html>
